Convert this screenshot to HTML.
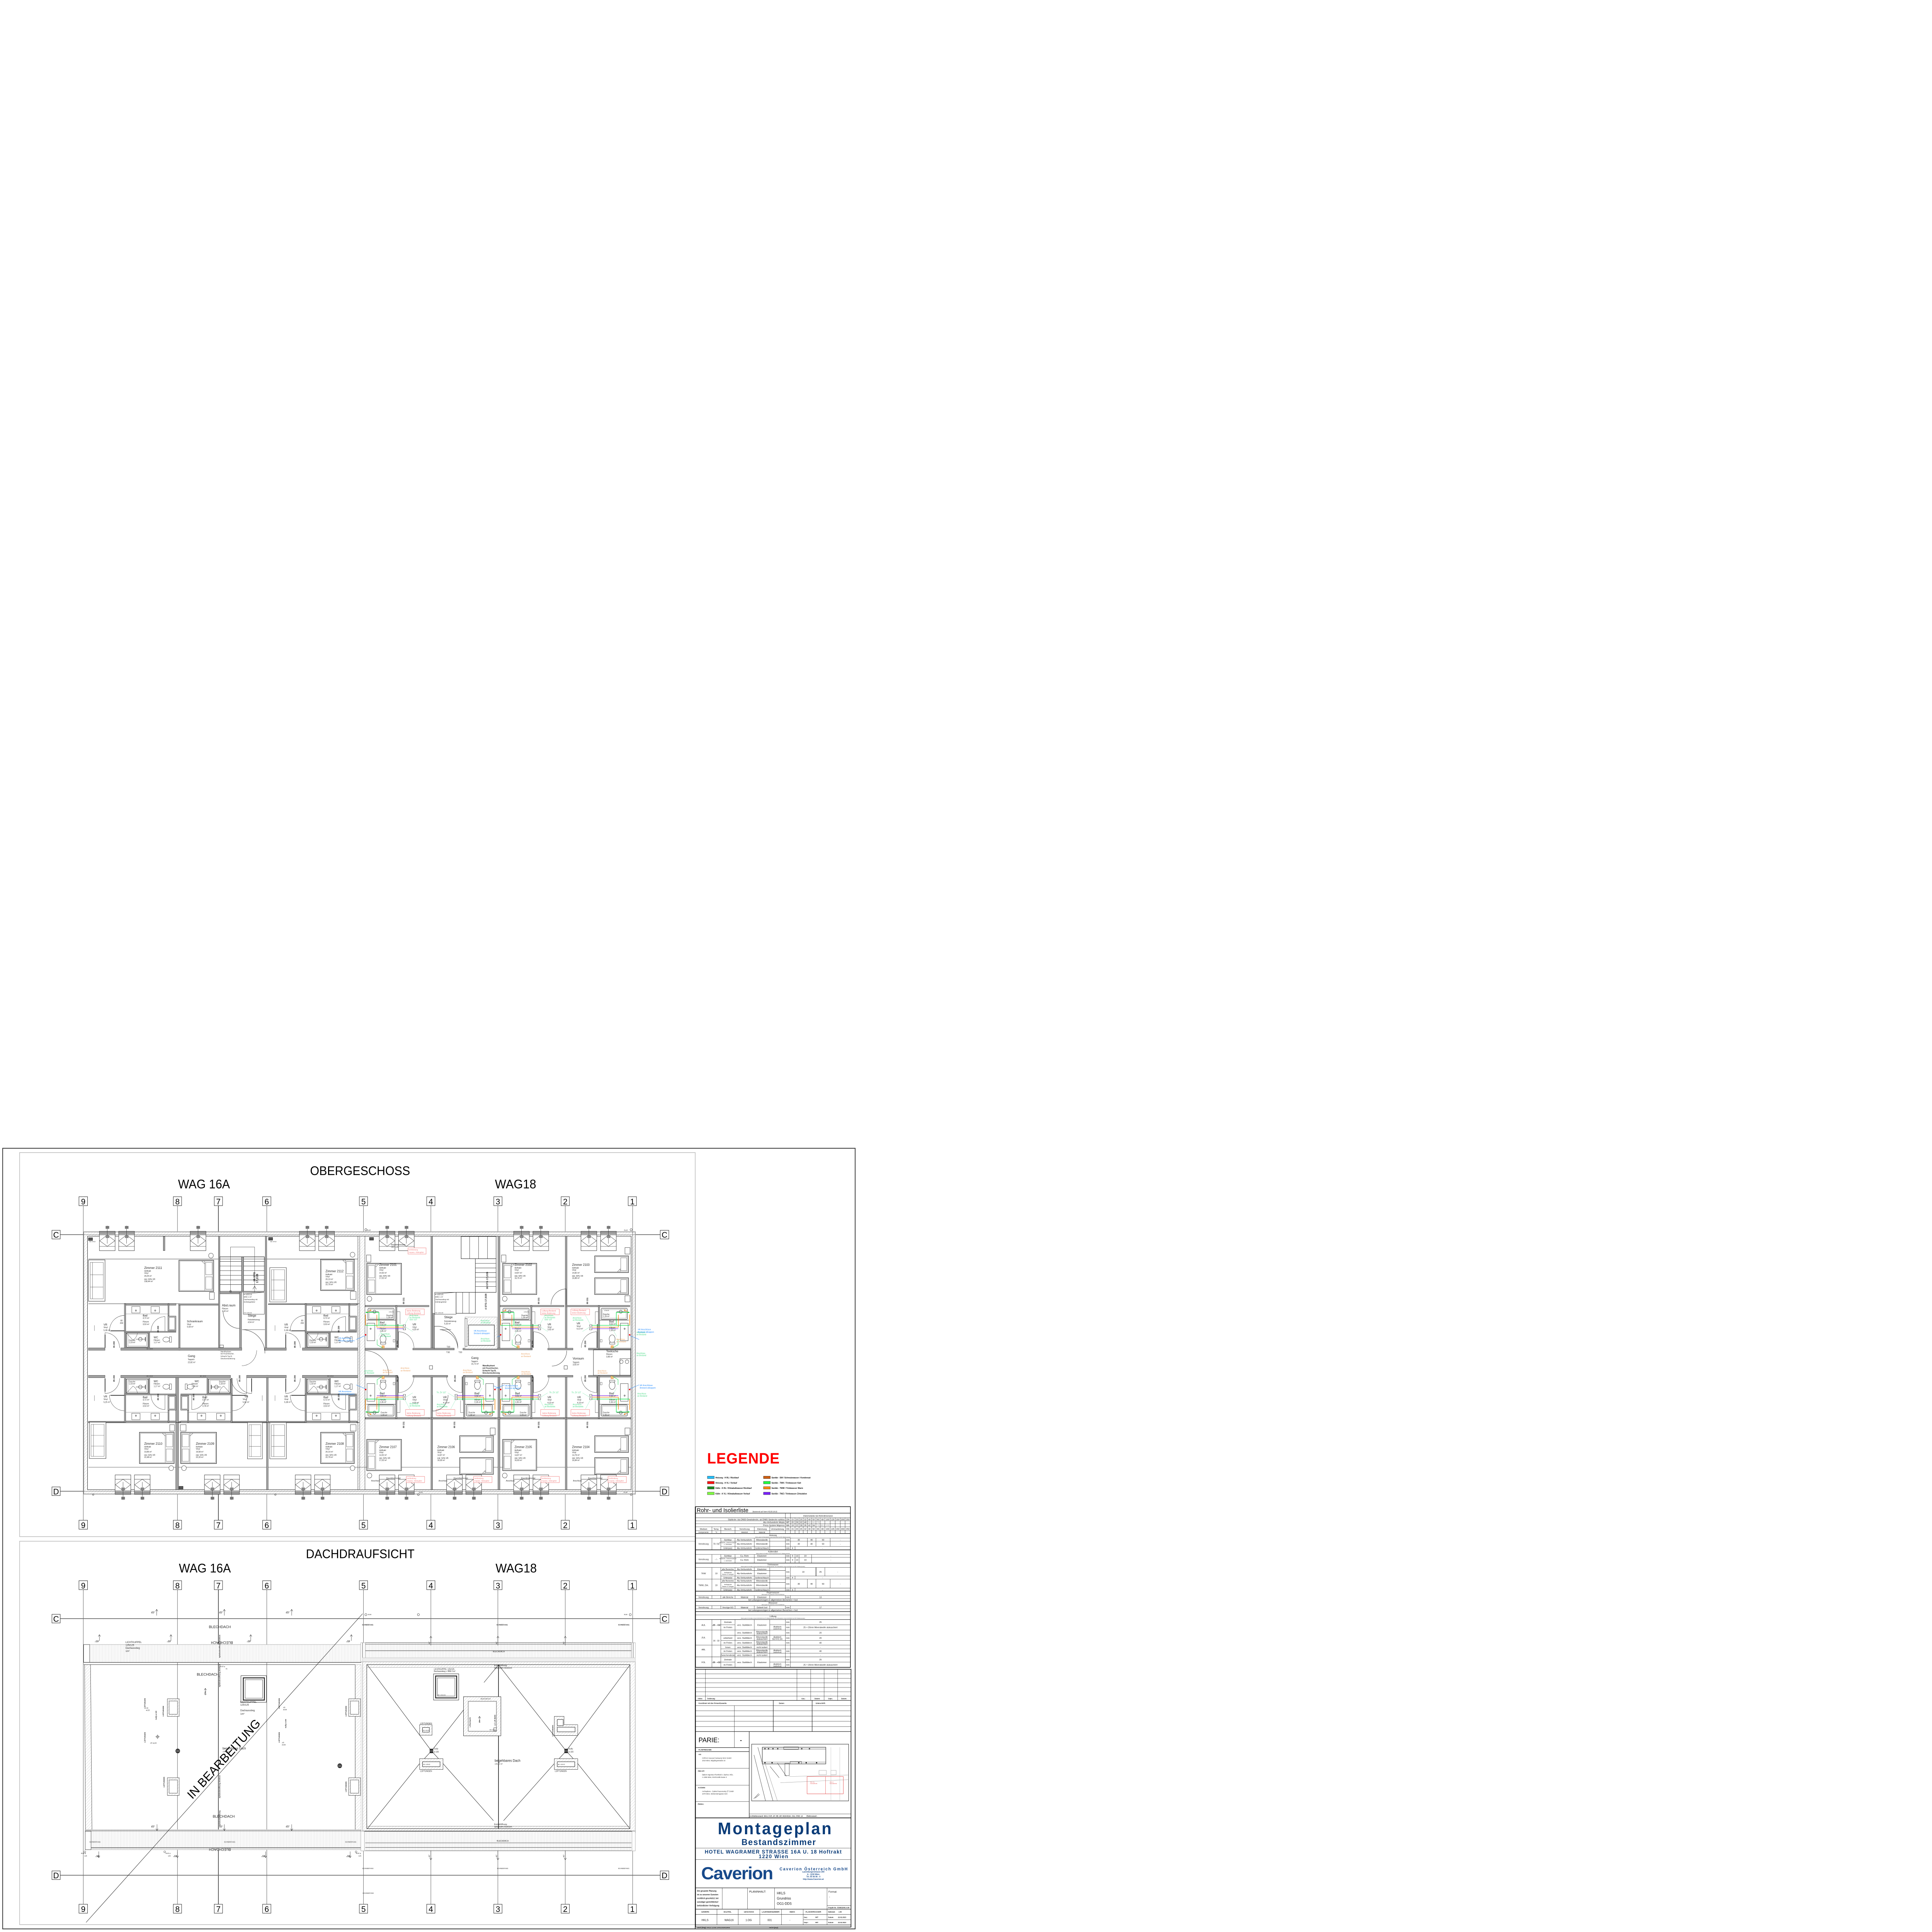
<!DOCTYPE html>
<html><head><meta charset="utf-8"><title>Montageplan</title>
<style>html,body{margin:0;padding:0;background:#fff;width:100%;height:100%;overflow:hidden}svg{display:block;width:100vw;height:100vh}</style></head>
<body>
<svg xmlns="http://www.w3.org/2000/svg" xmlns:xlink="http://www.w3.org/1999/xlink" viewBox="0 0 6511 6264" preserveAspectRatio="none" font-family="'Liberation Sans', sans-serif">
<defs>
<pattern id="hatch" width="7" height="7" patternUnits="userSpaceOnUse" patternTransform="rotate(45)"><rect width="7" height="7" fill="#fff"/><line x1="0" y1="0" x2="0" y2="7" stroke="#bdbdbd" stroke-width="1.2"/></pattern>
<pattern id="vl" width="5" height="10" patternUnits="userSpaceOnUse"><rect width="5" height="10" fill="#fff"/><line x1="0.5" y1="0" x2="0.5" y2="10" stroke="#cfcfcf" stroke-width="0.9"/></pattern>
<g id="wt">
<rect x="0" y="0" width="53" height="63" fill="#fff" stroke="#222" stroke-width="1.1"/>
<rect x="0" y="0" width="53" height="6" fill="#9a9a9a" stroke="#222" stroke-width="0.8"/>
<line x1="0" y1="9" x2="53" y2="9" stroke="#222" stroke-width="1.4"/>
<line x1="0" y1="12" x2="53" y2="12" stroke="#222" stroke-width="0.8"/>
<polygon points="26.5,12 52,31 26.5,49 1,31" fill="none" stroke="#222" stroke-width="0.9"/>
<line x1="0" y1="49" x2="53" y2="49" stroke="#222" stroke-width="0.9"/>
<line x1="26.5" y1="-18" x2="26.5" y2="40" stroke="#222" stroke-width="0.9"/>
<rect x="21" y="-17" width="12" height="9" fill="#777"/>
<rect x="21" y="13" width="12" height="9" fill="#888"/>
</g>
<g id="bedL">
<rect x="0" y="0" width="117" height="101" fill="#fff" stroke="#222" stroke-width="1.6"/>
<rect x="3" y="3" width="111" height="95" fill="none" stroke="#444" stroke-width="0.7"/>
<rect x="5" y="7" width="22" height="40" fill="none" stroke="#333" stroke-width="0.8"/>
<rect x="5" y="54" width="22" height="40" fill="none" stroke="#333" stroke-width="0.8"/>
<line x1="30" y1="3" x2="30" y2="98" stroke="#333" stroke-width="0.8"/>
<path d="M30 3 L40 3 L30 12 Z" fill="#fff" stroke="#333" stroke-width="0.8"/>
</g>
<g id="bedS">
<rect x="0" y="0" width="114" height="54" fill="#fff" stroke="#222" stroke-width="1.5"/>
<rect x="3" y="3" width="108" height="48" fill="none" stroke="#444" stroke-width="0.7"/>
<rect x="88" y="6" width="20" height="42" fill="none" stroke="#333" stroke-width="0.8"/>
<path d="M86 51 L86 42 L77 51 Z" fill="#fff" stroke="#333" stroke-width="0.8"/>
</g>
<g id="sofa">
<rect x="0" y="0" width="56" height="134" fill="#fff" stroke="#222" stroke-width="1.2"/>
<rect x="6" y="8" width="44" height="118" fill="none" stroke="#333" stroke-width="0.8"/>
<line x1="6" y1="48" x2="50" y2="48" stroke="#333" stroke-width="0.8"/>
<line x1="6" y1="88" x2="50" y2="88" stroke="#333" stroke-width="0.8"/>
<line x1="14" y1="8" x2="14" y2="126" stroke="#333" stroke-width="0.8"/>
</g>
<g id="b16">
<line x1="0" y1="0" x2="304" y2="0" stroke="#222" stroke-width="1.2"/>
<rect x="121" y="-1" width="174" height="6" fill="#a0a0a0" stroke="#222" stroke-width="0.7"/>
<rect x="121" y="0" width="5" height="143" fill="#a0a0a0" stroke="#222" stroke-width="0.7"/>
<rect x="268" y="0" width="4" height="40" fill="#a0a0a0" stroke="#222" stroke-width="0.7"/>
<rect x="146" y="9" width="28" height="21" fill="#fff" stroke="#222" stroke-width="0.9"/>
<circle cx="160" cy="22" r="2" fill="none" stroke="#222"/>
<rect x="211" y="9" width="28" height="21" fill="#fff" stroke="#222" stroke-width="0.9"/>
<circle cx="225" cy="22" r="2" fill="none" stroke="#222"/>
<line x1="126" y1="33" x2="268" y2="33" stroke="#444" stroke-width="0.7"/>
<rect x="121" y="89" width="174" height="4" fill="#a0a0a0" stroke="#222" stroke-width="0.6"/>
<rect x="203" y="93" width="4" height="50" fill="#a0a0a0" stroke="#222" stroke-width="0.6"/>
<rect x="128" y="95" width="73" height="46" fill="#fff" stroke="#222" stroke-width="1.6"/>
<rect x="133" y="99" width="63" height="38" fill="none" stroke="#444" stroke-width="0.7"/>
<circle cx="175" cy="115" r="6" fill="none" stroke="#222" stroke-width="1"/>
<line x1="160" y1="115" x2="192" y2="115" stroke="#222" stroke-width="1"/>
<line x1="192" y1="108" x2="192" y2="122" stroke="#222" stroke-width="2"/>
<rect x="268" y="40" width="27" height="48" fill="#bbb" stroke="#222" stroke-width="0.9"/>
<rect x="272" y="44" width="19" height="40" fill="#fff" stroke="#222" stroke-width="0.7"/>
<ellipse cx="262" cy="116" rx="11" ry="8" fill="#fff" stroke="#222" stroke-width="0.9"/>
<rect x="273" y="107" width="7" height="18" fill="#fff" stroke="#222" stroke-width="0.9"/>
<path d="M56 143 V94 A49 49 0 0 1 105 143" fill="none" stroke="#222" stroke-width="0.8"/>
<path d="M121 88 H71 A50 50 0 0 1 121 38" fill="none" stroke="#222" stroke-width="0.8"/>
<path d="M258 89 V42 A47 47 0 0 0 211 89" fill="none" stroke="#222" stroke-width="0.8"/>
<path d="M128 95 L150 118 M150 118 A30 30 0 0 0 165 95" fill="none" stroke="#222" stroke-width="0.7"/>
<line x1="75" y1="88" x2="121" y2="88" stroke="#222" stroke-width="2.2"/>
<line x1="56" y1="100" x2="56" y2="143" stroke="#222" stroke-width="2.2"/>
<line x1="20" y1="88" x2="20" y2="70" stroke="#222" stroke-width="0.7"/>
</g>
<g id="b18">
<rect x="0" y="-1" width="215" height="5" fill="#a0a0a0" stroke="#222" stroke-width="0.6"/>
<rect x="102" y="0" width="5" height="140" fill="#a0a0a0" stroke="#222" stroke-width="0.6"/>
<rect x="9" y="9" width="88" height="36" rx="3" fill="#fff" stroke="#222" stroke-width="1.3"/>
<rect x="13" y="13" width="80" height="28" fill="none" stroke="#444" stroke-width="0.6"/>
<circle cx="31" cy="20" r="5" fill="none" stroke="#222"/>
<line x1="14" y1="20" x2="45" y2="20" stroke="#222"/>
<line x1="4" y1="47" x2="102" y2="47" stroke="#222" stroke-width="1.2"/>
<rect x="6" y="57" width="26" height="57" fill="#fff" stroke="#222" stroke-width="1"/>
<circle cx="18" cy="75" r="2" fill="none" stroke="#222"/>
<ellipse cx="60" cy="108" rx="10" ry="13" fill="#fff" stroke="#222"/>
<rect x="51" y="119" width="18" height="6" fill="#fff" stroke="#222"/>
<rect x="94" y="110" width="6" height="8" fill="#fff" stroke="#222" stroke-width="0.7"/>
<path d="M112 137 V85 A52 52 0 0 1 164 137" fill="none" stroke="#222" stroke-width="0.8"/>
<path d="M107 20 H117 V60" fill="none" stroke="#222" stroke-width="0.7"/>
<line x1="110" y1="60" x2="110" y2="137" stroke="#222" stroke-width="2"/>
<path d="M1 22 H46 V64 H1" fill="none" stroke="#00e040" stroke-width="1.5"/>
<path d="M1 29 V64" fill="none" stroke="#f08000" stroke-width="1.8"/>
<path d="M39 30 V70 H129" fill="none" stroke="#f08000" stroke-width="1.5"/>
<path d="M39 75 H129" fill="none" stroke="#8020e0" stroke-width="1.5"/>
<path d="M2 64 H129" fill="none" stroke="#00e040" stroke-width="1.5"/>
<path d="M18 15 L5 22" fill="none" stroke="#f08000" stroke-width="1.2"/>
<circle cx="18" cy="15" r="2" fill="#f08000"/>
<circle cx="5" cy="22" r="2" fill="#00c030"/>
<rect x="128" y="62" width="8" height="17" fill="#fff" stroke="#222" stroke-width="0.7"/>
<path d="M128 62 L136 79 M136 62 L128 79" stroke="#222" stroke-width="0.5"/>
<circle cx="1" cy="95" r="2.5" fill="#ff0000"/>
<path d="M1 97 L-31 110" stroke="#1e88ff" stroke-width="1"/>
<rect x="56" y="130" width="8" height="8" fill="#f8c080" stroke="#e08020" stroke-width="1"/>
<path d="M60 138 L40 127 L40 110" fill="none" stroke="#00d040" stroke-width="1"/>
<rect x="136" y="11" width="63" height="19" fill="#fff" stroke="#f07070" stroke-width="1"/>
<path d="M133 62 L150 32 M136 70 L160 84 M45 100 L70 55" fill="none" stroke="#80e8b0" stroke-width="0.7"/>
</g>
<g id="vent">
<rect x="0" y="0" width="40" height="57" fill="url(#hatch)" stroke="#222" stroke-width="1"/>
<rect x="6" y="7" width="28" height="43" fill="#fff" stroke="#222" stroke-width="1"/>
</g>
</defs>

<!-- ========== FRAMES ========== -->
<rect x="9" y="3723" width="2873" height="2531" fill="none" stroke="#333" stroke-width="2.5"/>
<rect x="66" y="3737" width="2277" height="1245" fill="none" stroke="#bbb" stroke-width="2"/>
<rect x="66" y="4997" width="2277" height="1243" fill="none" stroke="#bbb" stroke-width="2"/>

<!-- ========== TITLES ========== -->
<g fill="#000">
<text x="1045" y="3810" font-size="41" textLength="337" lengthAdjust="spacingAndGlyphs">OBERGESCHOSS</text>
<text x="600" y="3853" font-size="41" textLength="175" lengthAdjust="spacingAndGlyphs">WAG 16A</text>
<text x="1668" y="3853" font-size="41" textLength="139" lengthAdjust="spacingAndGlyphs">WAG18</text>
<text x="1031" y="5052" font-size="41" textLength="366" lengthAdjust="spacingAndGlyphs">DACHDRAUFSICHT</text>
<text x="603" y="5098" font-size="41" textLength="175" lengthAdjust="spacingAndGlyphs">WAG 16A</text>
<text x="1670" y="5098" font-size="41" textLength="139" lengthAdjust="spacingAndGlyphs">WAG18</text>
</g>

<!-- ========== GRID LINES ========== -->
<g stroke="#333" stroke-width="1">
<line x1="280.5" y1="3909" x2="280.5" y2="4929"/><line x1="598" y1="3909" x2="598" y2="4929"/>
<line x1="899" y1="3909" x2="899" y2="4929"/><line x1="1225" y1="3909" x2="1225" y2="4929"/>
<line x1="1452" y1="3909" x2="1452" y2="4929"/><line x1="1678" y1="3909" x2="1678" y2="4929"/>
<line x1="1905" y1="3909" x2="1905" y2="4929"/><line x1="2132" y1="3909" x2="2132" y2="4929"/>
<line x1="280.5" y1="5154" x2="280.5" y2="6174"/><line x1="598" y1="5154" x2="598" y2="6174"/>
<line x1="899" y1="5154" x2="899" y2="6174"/><line x1="1225" y1="5154" x2="1225" y2="6174"/>
<line x1="1452" y1="5154" x2="1452" y2="6174"/><line x1="1678" y1="5154" x2="1678" y2="6174"/>
<line x1="1905" y1="5154" x2="1905" y2="6174"/><line x1="2132" y1="5154" x2="2132" y2="6174"/>
</g>
<g stroke="#000" stroke-width="1.6">
<line x1="736" y1="3909" x2="736" y2="4929"/><line x1="736" y1="5154" x2="736" y2="6174"/>
</g>
<g stroke="#666" stroke-width="2.2">
<line x1="203" y1="4003" x2="2225" y2="4003"/><line x1="203" y1="4835" x2="2225" y2="4835"/>
<line x1="203" y1="5248" x2="2225" y2="5248"/><line x1="203" y1="6080" x2="2225" y2="6080"/>
</g>

<!-- ========== TOP PLAN BUILDING ========== -->
<rect x="282" y="3994" width="1859" height="850" fill="url(#hatch)" stroke="#a8a8a8" stroke-width="3"/>
<rect x="295" y="4008" width="1832" height="822" fill="#fff" stroke="#222" stroke-width="1.3"/>
<line x1="280.5" y1="3994" x2="280.5" y2="4844" stroke="#333" stroke-width="1"/>
<line x1="2132" y1="3994" x2="2132" y2="4844" stroke="#333" stroke-width="1"/>
<line x1="282" y1="4003" x2="2141" y2="4003" stroke="#555" stroke-width="1"/>
<line x1="282" y1="4835" x2="2141" y2="4835" stroke="#555" stroke-width="1"/>
<!-- firewall -->
<rect x="1206" y="4008" width="24" height="822" fill="url(#hatch)" stroke="#222" stroke-width="1"/>
<line x1="1212" y1="4008" x2="1212" y2="4830" stroke="#999" stroke-width="2"/>
<!-- beam lines -->
<line x1="298" y1="4082" x2="1206" y2="4082" stroke="#333" stroke-width="1"/>
<line x1="298" y1="4757" x2="2127" y2="4757" stroke="#333" stroke-width="1"/>

<!-- WAG16A interior walls -->
<g fill="#a0a0a0" stroke="#222" stroke-width="0.7">
<rect x="736" y="4008" width="5" height="370"/>
<rect x="894" y="4008" width="5" height="370"/>
<rect x="602" y="4227" width="5" height="151"/>
<rect x="592" y="4459" width="10" height="371"/>
<rect x="898" y="4459" width="6" height="371"/>
<rect x="741" y="4190" width="73" height="5"/>
<rect x="807" y="4190" width="7" height="183"/>
<rect x="298" y="4370" width="56" height="8"/>
<rect x="407" y="4370" width="408" height="8"/>
<rect x="891" y="4370" width="74" height="8"/>
<rect x="1019" y="4370" width="187" height="8"/>
<rect x="298" y="4459" width="56" height="8"/>
<rect x="407" y="4459" width="370" height="8"/>
<rect x="831" y="4459" width="134" height="8"/>
<rect x="1019" y="4459" width="187" height="8"/>
<rect x="602" y="4227" width="134" height="5"/>
<rect x="298" y="4608" width="294" height="5"/>
<rect x="602" y="4608" width="296" height="5"/>
<rect x="904" y="4608" width="302" height="5"/>
<rect x="904" y="4227" width="302" height="3"/>
<rect x="550" y="4009" width="6" height="46"/>
</g>
<!-- WAG16A bath modules -->
<use xlink:href="#b16" transform="translate(298,4227)"/>
<use xlink:href="#b16" transform="translate(907,4227)"/>
<use xlink:href="#b16" transform="translate(298,4612) scale(1,-1)"/>
<use xlink:href="#b16" transform="translate(907,4612) scale(1,-1)"/>
<use xlink:href="#b16" transform="translate(904,4612) scale(-1,-1)"/>

<!-- stair WAG16A -->
<g stroke="#222" fill="none" stroke-width="1">
<rect x="741" y="4075" width="150" height="112" stroke-width="1.5"/>
<rect x="777" y="4043" width="81" height="147" stroke-width="0.8"/>
<rect x="814" y="4075" width="7" height="112" fill="#a0a0a0"/>
<line x1="741" y1="4090" x2="814" y2="4090"/><line x1="741" y1="4105" x2="814" y2="4105"/><line x1="741" y1="4120" x2="814" y2="4120"/><line x1="741" y1="4135" x2="814" y2="4135"/><line x1="741" y1="4150" x2="814" y2="4150"/><line x1="741" y1="4165" x2="814" y2="4165"/>
<line x1="821" y1="4090" x2="891" y2="4090"/><line x1="821" y1="4105" x2="891" y2="4105"/><line x1="821" y1="4120" x2="891" y2="4120"/><line x1="821" y1="4135" x2="891" y2="4135"/><line x1="821" y1="4150" x2="891" y2="4150"/><line x1="821" y1="4165" x2="891" y2="4165"/>
<rect x="820" y="4190" width="71" height="71"/>
<line x1="820" y1="4195" x2="891" y2="4190"/>
<path d="M807 4307 A55 55 0 0 1 752 4252" />
<path d="M816 4311 H893 M816 4311 A77 77 0 0 1 893 4388" />
<circle cx="777" cy="4187" r="3"/>
<path d="M852 4180 L858 4170 L864 4180"/>
<rect x="741" y="4361" width="12" height="8" fill="#fff"/>
</g>
<!-- windows -->
<use xlink:href="#wt" x="335" y="3992"/><use xlink:href="#wt" x="400" y="3992"/><use xlink:href="#wt" x="641" y="3992"/>
<use xlink:href="#wt" x="1009" y="3992"/><use xlink:href="#wt" x="1074" y="3992"/>
<use xlink:href="#wt" x="1278" y="3992"/><use xlink:href="#wt" x="1343" y="3992"/>
<use xlink:href="#wt" x="1731" y="3992"/><use xlink:href="#wt" x="1796" y="3992"/>
<use xlink:href="#wt" x="1958" y="3992"/><use xlink:href="#wt" x="2024" y="3992"/>
<use xlink:href="#wt" transform="translate(388,4845) scale(1,-1)"/><use xlink:href="#wt" transform="translate(453,4845) scale(1,-1)"/>
<use xlink:href="#wt" transform="translate(689,4845) scale(1,-1)"/><use xlink:href="#wt" transform="translate(754,4845) scale(1,-1)"/>
<use xlink:href="#wt" transform="translate(995,4845) scale(1,-1)"/><use xlink:href="#wt" transform="translate(1060,4845) scale(1,-1)"/>
<use xlink:href="#wt" transform="translate(1278,4845) scale(1,-1)"/><use xlink:href="#wt" transform="translate(1343,4845) scale(1,-1)"/>
<use xlink:href="#wt" transform="translate(1505,4845) scale(1,-1)"/><use xlink:href="#wt" transform="translate(1570,4845) scale(1,-1)"/>
<use xlink:href="#wt" transform="translate(1731,4845) scale(1,-1)"/><use xlink:href="#wt" transform="translate(1796,4845) scale(1,-1)"/>
<use xlink:href="#wt" transform="translate(1958,4845) scale(1,-1)"/><use xlink:href="#wt" transform="translate(2024,4845) scale(1,-1)"/>

<!-- WAG16A furniture -->
<use xlink:href="#sofa" x="298" y="4085"/>
<use xlink:href="#sofa" transform="translate(301,4611) scale(1,0.88)"/>
<use xlink:href="#sofa" transform="translate(834,4612) scale(0.9,0.88)"/>
<use xlink:href="#sofa" transform="translate(909,4110) scale(1,0.83)"/>
<use xlink:href="#sofa" transform="translate(909,4612) scale(1,0.88)"/>
<use xlink:href="#bedL" transform="translate(720,4086) scale(-1,1)"/>
<use xlink:href="#bedL" transform="translate(1194,4083) scale(-0.97,1)"/>
<use xlink:href="#bedL" transform="translate(587,4644) scale(-1,1)"/>
<use xlink:href="#bedL" transform="translate(609,4644) scale(1.03,1)"/>
<use xlink:href="#bedL" transform="translate(1194,4644) scale(-0.97,1)"/>
<g fill="#fff" stroke="#222" stroke-width="1">
<rect x="706" y="4190" width="16" height="23"/><circle cx="711" cy="4071" r="8"/>
<rect x="1181" y="4187" width="19" height="26"/><circle cx="1188" cy="4068" r="8"/>
<rect x="572" y="4619" width="16" height="21"/><circle cx="577" cy="4760" r="8"/>
<rect x="608" y="4619" width="19" height="21"/><circle cx="620" cy="4760" r="8"/>
<rect x="1181" y="4619" width="19" height="21"/><circle cx="1188" cy="4760" r="8"/>
<rect x="298" y="4013" width="14" height="9" fill="#555"/><rect x="905" y="4012" width="14" height="9" fill="#555"/>
<rect x="603" y="4819" width="14" height="9" fill="#555"/><rect x="1245" y="4012" width="14" height="9" fill="#555"/>
</g>

<!-- WAG16A texts -->
<g fill="#222" font-size="6.5">
<text x="486" y="4114" font-size="10.5">Zimmer 2111</text><text x="486" y="4123">Hoftrakt</text><text x="486" y="4130">Vinyl</text><text x="486" y="4139">29,25 m²</text><text x="486" y="4150">inkl. 50% VR</text><text x="486" y="4157">158,44 m²</text>
<text x="1097" y="4125" font-size="10.5">Zimmer 2112</text><text x="1097" y="4134">Hoftrakt</text><text x="1097" y="4141">Vinyl</text><text x="1097" y="4150">20,10 m²</text><text x="1097" y="4160">inkl. 50% VR</text><text x="1097" y="4167">22,79 m²</text>
<text x="486" y="4684" font-size="10.5">Zimmer 2110</text><text x="486" y="4693">Hoftrakt</text><text x="486" y="4700">Vinyl</text><text x="486" y="4709">19,86 m²</text><text x="486" y="4720">inkl. 50% VR</text><text x="486" y="4727">22,48 m²</text>
<text x="660" y="4684" font-size="10.5">Zimmer 2109</text><text x="660" y="4693">Hoftrakt</text><text x="660" y="4700">Vinyl</text><text x="660" y="4709">19,58 m²</text><text x="660" y="4720">inkl. 50% VR</text><text x="660" y="4727">22,33 m²</text>
<text x="1097" y="4684" font-size="10.5">Zimmer 2108</text><text x="1097" y="4693">Hoftrakt</text><text x="1097" y="4700">Vinyl</text><text x="1097" y="4709">20,10 m²</text><text x="1097" y="4720">inkl. 50% VR</text><text x="1097" y="4727">22,79 m²</text>
<text x="630" y="4287" font-size="9">Schrankraum</text><text x="630" y="4296">Vinyl</text><text x="630" y="4304">5,58 m²</text>
<text x="748" y="4236" font-size="10">Abst.raum</text><text x="748" y="4245">Fliesen</text><text x="748" y="4253">3,42 m²</text>
<text x="835" y="4269" font-size="10">Stiege</text><text x="835" y="4281">Feinsteinzeug</text><text x="835" y="4289">4,54 m²</text>
<text x="822" y="4199" font-size="6">K 125/125</text><text x="822" y="4207" font-size="6">BRE 1 m²</text><text x="822" y="4215" font-size="6">Dachausstieg mit</text><text x="822" y="4223" font-size="6">Einhängeleiter</text><text x="822" y="4258" font-size="5">DD 125/125</text>
<text transform="translate(860,4155) rotate(-90)" font-size="9" font-weight="bold">16 STG</text><text transform="translate(870,4160) rotate(-90)" font-size="9" font-weight="bold">17,2/28</text>
<text x="633" y="4400" font-size="10">Gang</text><text x="633" y="4410">Teppich</text><text x="633" y="4419">22,82 m²</text>
<text x="743" y="4384" font-size="6">Wandhydrant</text><text x="743" y="4391" font-size="6">mit Feuerlöscher,</text><text x="743" y="4399" font-size="6">Schacht Typ B,</text><text x="743" y="4407" font-size="6">Streckenisolierung</text>
<text x="301" y="4027" font-size="5">BD 24/10</text><text x="911" y="4027" font-size="5">BD 24/10</text>
<text x="349" y="4298" font-size="9">VR</text><text x="349" y="4306">Vinyl</text><text x="349" y="4315">5,38 m²</text>
<text x="481" y="4268" font-size="9">Bad</text><text x="481" y="4276">4,72 m²</text><text x="481" y="4288">Fliesen</text><text x="481" y="4296">3,53 m²</text>
<text x="434" y="4348">Dusche</text><text x="434" y="4355">1,19 m²</text>
<text x="518" y="4339" font-size="9">WC</text><text x="518" y="4347">Fliesen</text><text x="518" y="4355">1,17 m²</text>
<text x="406" y="4284">80</text><text x="404" y="4292">200</text><text x="494" y="4375" font-size="5">BD 14/14</text>
<text x="958" y="4298" font-size="9">VR</text><text x="958" y="4306">Vinyl</text><text x="958" y="4315">5,38 m²</text>
<text x="1090" y="4268" font-size="9">Bad</text><text x="1090" y="4276">4,72 m²</text><text x="1090" y="4288">Fliesen</text><text x="1090" y="4296">3,53 m²</text>
<text x="1043" y="4348">Dusche</text><text x="1043" y="4355">1,19 m²</text>
<text x="1127" y="4339" font-size="9">WC</text><text x="1127" y="4347">Fliesen</text><text x="1127" y="4355">1,17 m²</text>
<text x="1015" y="4284">80</text><text x="1013" y="4292">200</text>
<text x="349" y="4531" font-size="9">VR</text><text x="349" y="4539">Vinyl</text><text x="349" y="4548">5,25 m²</text>
<text x="481" y="4533" font-size="9">Bad</text><text x="481" y="4541">4,72 m²</text><text x="481" y="4553">Fliesen</text><text x="481" y="4561">3,53 m²</text>
<text x="434" y="4482">Dusche</text><text x="434" y="4489">1,19 m²</text>
<text x="518" y="4481" font-size="9">WC</text><text x="518" y="4489">Fliesen</text><text x="518" y="4497">1,17 m²</text>
<text x="494" y="4463" font-size="5">BD 14/14</text>
<text x="824" y="4531" font-size="9">VR</text><text x="818" y="4539">Vinyl</text><text x="818" y="4548">5,51 m²</text>
<text x="682" y="4533" font-size="9">Bad</text><text x="682" y="4541">4,97 m²</text><text x="682" y="4553">Fliesen</text><text x="682" y="4561">3,78 m²</text>
<text x="738" y="4482">Dusche</text><text x="738" y="4489">1,19 m²</text>
<text x="656" y="4481" font-size="9">WC</text><text x="646" y="4489">Fliesen</text><text x="646" y="4497">1,06 m²</text>
<text x="674" y="4463" font-size="5">BD 14/14</text>
<text x="958" y="4531" font-size="9">VR</text><text x="958" y="4539">Vinyl</text><text x="958" y="4548">5,38 m²</text>
<text x="1090" y="4533" font-size="9">Bad</text><text x="1090" y="4541">4,72 m²</text><text x="1090" y="4553">Fliesen</text><text x="1090" y="4561">3,53 m²</text>
<text x="1043" y="4482">Dusche</text><text x="1043" y="4489">1,19 m²</text>
<text x="1127" y="4481" font-size="9">WC</text><text x="1127" y="4489">Fliesen</text><text x="1127" y="4497">1,17 m²</text>
<text x="1103" y="4463" font-size="5">BD 14/14</text>
</g>
<g fill="none" stroke="#222" stroke-width="0.8">
<path d="M831 4467 V4519 A52 52 0 0 1 779 4467"/>
<path d="M865 4378 A50 50 0 0 1 815 4428"/>
</g>

<!-- WAG18 interior walls -->
<g fill="#a0a0a0" stroke="#222" stroke-width="0.7">
<rect x="1452" y="4008" width="6" height="368"/><rect x="1452" y="4459" width="6" height="371"/>
<rect x="1678" y="4008" width="7" height="368"/><rect x="1678" y="4459" width="7" height="371"/>
<rect x="1905" y="4008" width="6" height="368"/><rect x="1905" y="4459" width="6" height="371"/>
<rect x="1230" y="4371" width="109" height="6"/><rect x="1391" y="4371" width="140" height="6"/><rect x="1560" y="4371" width="234" height="6"/><rect x="1846" y="4371" width="85" height="6"/><rect x="1983" y="4371" width="144" height="6"/>
<rect x="1230" y="4459" width="109" height="6"/><rect x="1391" y="4459" width="118" height="6"/><rect x="1561" y="4459" width="233" height="6"/><rect x="1846" y="4459" width="85" height="6"/><rect x="1983" y="4459" width="144" height="6"/>
<rect x="1230" y="4596" width="897" height="5"/>
<rect x="1458" y="4258" width="6" height="113"/>
</g>
<use xlink:href="#b18" transform="translate(1231,4233)"/>
<use xlink:href="#b18" transform="translate(1686,4233)"/>
<use xlink:href="#b18" transform="translate(2123,4233) scale(-1,1)"/>
<use xlink:href="#b18" transform="translate(1231,4600) scale(1,-1)"/>
<use xlink:href="#b18" transform="translate(1686,4600) scale(1,-1)"/>
<use xlink:href="#b18" transform="translate(1669,4600) scale(-1,-1)"/>
<use xlink:href="#b18" transform="translate(2123,4600) scale(-1,-1)"/>
<g fill="none" stroke="#222" stroke-width="1">
<rect x="1554" y="4009" width="118" height="72" stroke-width="1.3"/>
<line x1="1583" y1="4009" x2="1583" y2="4081"/><line x1="1613" y1="4009" x2="1613" y2="4081"/><line x1="1643" y1="4009" x2="1643" y2="4081"/>
<rect x="1602" y="4081" width="70" height="109" stroke-width="1.3"/>
<line x1="1602" y1="4096" x2="1672" y2="4096"/><line x1="1602" y1="4111" x2="1672" y2="4111"/><line x1="1602" y1="4126" x2="1672" y2="4126"/><line x1="1602" y1="4141" x2="1672" y2="4141"/><line x1="1602" y1="4156" x2="1672" y2="4156"/><line x1="1602" y1="4171" x2="1672" y2="4171"/>
<rect x="1537" y="4190" width="65" height="68" stroke-width="1.3"/>
<line x1="1559" y1="4190" x2="1559" y2="4258"/><line x1="1581" y1="4190" x2="1581" y2="4258"/>
<rect x="1465" y="4190" width="72" height="71"/>
<line x1="1465" y1="4195" x2="1537" y2="4190"/>
<rect x="1567" y="4270" width="108" height="103" fill="url(#hatch)" stroke="#999"/>
<rect x="1579" y="4296" width="87" height="66" fill="#fff" stroke="#222" stroke-width="1.5"/>
<rect x="1567" y="4275" width="7" height="90" fill="#fff"/>
<path d="M1464 4373 V4300 H1480 A70 70 0 0 1 1543 4368"/>
<path d="M1482 4311 H1520 M1482 4311 A64 64 0 0 1 1543 4372"/>
<path d="M1231 4379 A80 80 0 0 1 1310 4459 H1231"/>
<path d="M1910 4379 A50 50 0 0 1 1860 4429"/>
<rect x="2000" y="4376" width="125" height="83" stroke-width="1.2"/>
<rect x="2089" y="4405" width="36" height="54"/>
<circle cx="2094" cy="4415" r="6"/><circle cx="2113" cy="4415" r="6"/>
<rect x="1447" y="4428" width="11" height="11"/><rect x="1901" y="4428" width="11" height="11"/>
<path d="M1908 4230 V4179 A51 51 0 0 0 1857 4230"/>
<path d="M1458 4523 V4575 A52 52 0 0 0 1510 4523"/>
</g>
<use xlink:href="#bedL" x="1236" y="4096"/>
<use xlink:href="#bedL" transform="translate(1694,4096) scale(0.98,1)"/>
<use xlink:href="#bedL" x="1236" y="4667"/>
<use xlink:href="#bedL" transform="translate(1694,4667) scale(0.98,1)"/>
<use xlink:href="#bedS" x="2004" y="4072"/><use xlink:href="#bedS" x="2004" y="4143"/>
<use xlink:href="#bedS" x="1549" y="4655"/><use xlink:href="#bedS" x="1549" y="4726"/>
<use xlink:href="#bedS" x="2004" y="4655"/><use xlink:href="#bedS" x="2004" y="4726"/>
<g fill="#fff" stroke="#222" stroke-width="1">
<circle cx="1245" cy="4211" r="8"/><rect x="1235" y="4069" width="15" height="23"/>
<circle cx="1701" cy="4211" r="8"/><rect x="1690" y="4069" width="15" height="23"/>
<circle cx="1245" cy="4784" r="8"/><circle cx="1701" cy="4784" r="8"/>
<rect x="2106" y="4045" width="17" height="21"/><rect x="2106" y="4201" width="17" height="20"/>
<rect x="1652" y="4630" width="17" height="22"/><rect x="2106" y="4630" width="17" height="22"/>
</g>
<g fill="#fff" stroke="#f07070" stroke-width="1">
<rect x="1375" y="4046" width="61" height="20"/>
<rect x="1369" y="4787" width="62" height="20"/><rect x="1596" y="4787" width="62" height="20"/>
<rect x="1823" y="4787" width="62" height="20"/><rect x="2049" y="4787" width="62" height="20"/>
</g>
<g font-size="6" fill="#f07070">
<text x="1377" y="4054">Verkleidung</text><text x="1377" y="4062">Anpass. Abbiegitter</text>
<text x="1371" y="4795">Verkleidung</text><text x="1371" y="4803">Anpass. Abbiegitter</text>
<text x="1598" y="4795">Verkleidung</text><text x="1598" y="4803">Anpass. Abbiegitter</text>
<text x="1825" y="4795">Verkleidung</text><text x="1825" y="4803">Anpass. Abbiegitter</text>
<text x="2051" y="4795">Verkleidung</text><text x="2051" y="4803">Anpass. Abbiegitter</text>
</g>
<g font-size="6.5" fill="#f07070">
<text x="1371" y="4252">keine Änderung</text><text x="1371" y="4260">Lüftung Bestand</text>
<text x="1826" y="4252">Lüftung Bestand</text><text x="1826" y="4260">keine Änderung</text>
<text x="1928" y="4251">Lüftung Bestand</text><text x="1928" y="4259">keine Änderung</text>
<text x="1371" y="4584">keine Änderung</text><text x="1371" y="4592">Lüftung Bestand</text>
<text x="1473" y="4584">keine Änderung</text><text x="1473" y="4592">Lüftung Bestand</text>
<text x="1828" y="4584">keine Änderung</text><text x="1828" y="4592">Lüftung Bestand</text>
<text x="1928" y="4584">keine Änderung</text><text x="1928" y="4592">Lüftung Bestand</text>
</g>
<g font-size="6.5" fill="#e8a060">
<text x="1350" y="4438">Anschluss</text><text x="1350" y="4446">an Bestand</text>
<text x="1290" y="4445">Anschluss</text><text x="1290" y="4452">an Bestand</text>
<text x="1560" y="4445">Anschluss</text><text x="1560" y="4452">an Bestand</text>
<text x="1756" y="4392">Anschluss</text><text x="1756" y="4400">an Bestand</text>
<text x="1757" y="4450">Anschluss</text><text x="1757" y="4457">an Bestand</text>
<text x="2014" y="4447">Anschluss</text><text x="2014" y="4454">an Bestand</text>
<text x="2077" y="4345">Anschluss</text><text x="2077" y="4352">an Bestand</text>
</g>
<g font-size="6.5" fill="#40d880">
<text x="1380" y="4267">Anschluss</text><text x="1380" y="4274">an Bestands</text><text x="1380" y="4281">SSV 1/2"</text>
<text x="1835" y="4267">Anschluss</text><text x="1835" y="4274">an Bestands</text><text x="1835" y="4281">SSV 1/2"</text>
<text x="1930" y="4275">Anschluss</text><text x="1930" y="4282">an Bestands</text>
<text x="1284" y="4327">Anschluss</text><text x="1284" y="4335">an Bestand</text>
<text x="1620" y="4284">Anschluss</text><text x="1620" y="4291">an Bestand</text>
<text x="1620" y="4343">Anschluss</text><text x="1620" y="4350">an Bestand</text>
<text x="1228" y="4447">Anschluss</text><text x="1228" y="4454">an Bestand</text>
<text x="2145" y="4322">Anschluss</text><text x="2145" y="4329">an Bestand</text>
<text x="2145" y="4390">Anschluss</text><text x="2145" y="4397">an Bestand</text>
<text x="2148" y="4521">Anschluss</text><text x="2148" y="4528">an Bestand</text>
<text x="1380" y="4553">Anschluss</text><text x="1380" y="4560">an Bestands</text>
<text x="1472" y="4556">Anschluss</text><text x="1472" y="4563">an Bestands</text>
<text x="1835" y="4556">Anschluss</text><text x="1835" y="4563">an Bestands</text>
<text x="1930" y="4556">Anschluss</text><text x="1930" y="4563">an Bestands</text>
<text x="1471" y="4517">Th. ZV 1/2"</text><text x="1851" y="4517">Th. ZV 1/2"</text><text x="1926" y="4517">Th. ZV 1/2"</text>
</g>
<g font-size="6.5" fill="#1e88ff">
<text x="1597" y="4317">HK Anschlüsse</text><text x="1597" y="4325">Bestand abkappen</text>
<text x="1702" y="4495">HK Anschlüsse</text><text x="1702" y="4503">Bestand abkappen</text>
<text x="2150" y="4313">HK Anschlüsse</text><text x="2150" y="4321">Bestand abkappen</text>
<text x="2156" y="4494">HK Anschlüsse</text><text x="2156" y="4502">Bestand abkappen</text>
<text x="1141" y="4341">HK Anschlüsse</text><text x="1141" y="4349">Bestand abkappen</text>
<text x="1141" y="4514">HK Anschlüsse</text><text x="1141" y="4522">Bestand abkappen</text>
</g>
<g fill="#222" font-size="6.5">
<text x="1278" y="4104" font-size="10">Zimmer 2101</text><text x="1278" y="4113">Hoftrakt</text><text x="1278" y="4120">Vinyl</text><text x="1278" y="4129">14,92 m²</text><text x="1278" y="4139">inkl. 50% VR</text><text x="1278" y="4146">17,02 m²</text>
<text x="1734" y="4104" font-size="10">Zimmer 2102</text><text x="1734" y="4113">Hoftrakt</text><text x="1734" y="4120">Vinyl</text><text x="1734" y="4129">14,87 m²</text><text x="1734" y="4139">inkl. 50% VR</text><text x="1734" y="4146">16,76 m²</text>
<text x="1928" y="4104" font-size="10">Zimmer 2103</text><text x="1928" y="4113">Hoftrakt</text><text x="1928" y="4120">Vinyl</text><text x="1928" y="4129">14,82 m²</text><text x="1928" y="4139">inkl. 50% VR</text><text x="1928" y="4146">16,88 m²</text>
<text x="1278" y="4695" font-size="10">Zimmer 2107</text><text x="1278" y="4704">Hoftrakt</text><text x="1278" y="4711">Vinyl</text><text x="1278" y="4720">14,92 m²</text><text x="1278" y="4730">inkl. 50% VR</text><text x="1278" y="4737">17,02 m²</text>
<text x="1474" y="4695" font-size="10">Zimmer 2106</text><text x="1474" y="4704">Hoftrakt</text><text x="1474" y="4711">Vinyl</text><text x="1474" y="4720">14,87 m²</text><text x="1474" y="4730">inkl. 50% VR</text><text x="1474" y="4737">16,93 m²</text>
<text x="1734" y="4695" font-size="10">Zimmer 2105</text><text x="1734" y="4704">Hoftrakt</text><text x="1734" y="4711">Vinyl</text><text x="1734" y="4720">14,87 m²</text><text x="1734" y="4730">inkl. 50% VR</text><text x="1734" y="4737">16,93 m²</text>
<text x="1928" y="4695" font-size="10">Zimmer 2104</text><text x="1928" y="4704">Hoftrakt</text><text x="1928" y="4711">Vinyl</text><text x="1928" y="4720">14,78 m²</text><text x="1928" y="4730">inkl. 50% VR</text><text x="1928" y="4737">16,84 m²</text>
<text x="1497" y="4274" font-size="10">Stiege</text><text x="1497" y="4286">Feinsteinzeug</text><text x="1497" y="4294">5,33 m²</text>
<text x="1467" y="4199" font-size="6">K 125/125</text><text x="1467" y="4207" font-size="6">BRE 1 m²</text><text x="1467" y="4215" font-size="6">Dachausstieg mit</text><text x="1467" y="4223" font-size="6">Einhängeleiter</text><text x="1467" y="4258" font-size="5">DD 125/125</text>
<text x="1588" y="4406" font-size="10">Gang</text><text x="1588" y="4416">Teppich</text><text x="1588" y="4424">15,73 m²</text>
<text x="1626" y="4430" font-weight="bold">Wandhydrant</text><text x="1626" y="4438" font-weight="bold">mit Feuerlöscher,</text><text x="1626" y="4446" font-weight="bold">Schacht Typ B,</text><text x="1626" y="4454" font-weight="bold">Streckenisolierung</text>
<text x="1930" y="4408" font-size="10">Vorraum</text><text x="1930" y="4419">Teppich</text><text x="1930" y="4427">3,55 m²</text>
<text x="2043" y="4384" font-size="9.5">Teeküche</text><text x="2043" y="4393">Fliesen</text><text x="2043" y="4401">2,86 m²</text>
<text x="1505" y="4369" font-size="7">T30</text><text x="1545" y="4387" font-size="7">T30</text><text x="1504" y="4387" font-size="7">T30</text>
<text transform="translate(1640,4246) rotate(-90)" font-size="8" font-weight="bold">4 STG 17,5/28</text>
<text transform="translate(1645,4180) rotate(-90)" font-size="8" font-weight="bold">16 STG 17,2/28</text>
<text x="1318" y="4038">Raumthermostat</text><text x="1318" y="4045">OH 2,35</text>
<text x="1302" y="4795">Raumthermostat</text><text x="1529" y="4795">Raumthermostat</text><text x="1756" y="4795">Raumthermostat</text><text x="1982" y="4795">Raumthermostat</text>
<text x="1251" y="4803">Anschluss</text><text x="1478" y="4803">Anschluss</text><text x="1705" y="4803">Anschluss</text><text x="1931" y="4803">Anschluss</text>
<text x="1302" y="4267">Dusche</text><text x="1302" y="4274">1,29 m²</text><text x="1310" y="4255" font-size="5">170x75</text>
<text x="1280" y="4291" font-size="9">Bad</text><text x="1280" y="4298">3,64 m²</text><text x="1280" y="4310">Fliesen</text><text x="1280" y="4318">2,35 m²</text>
<text x="1390" y="4297" font-size="9">VR</text><text x="1390" y="4305">Vinyl</text><text x="1390" y="4313">4,20 m²</text>
<text x="1757" y="4267">Dusche</text><text x="1757" y="4274">1,29 m²</text><text x="1765" y="4255" font-size="5">170x75</text>
<text x="1735" y="4291" font-size="9">Bad</text><text x="1735" y="4298">3,64 m²</text><text x="1735" y="4310">Fliesen</text><text x="1735" y="4318">2,35 m²</text>
<text x="1845" y="4297" font-size="9">VR</text><text x="1845" y="4305">Vinyl</text><text x="1845" y="4313">3,92 m²</text>
<text x="2032" y="4263">Dusche</text><text x="2032" y="4270">1,29 m²</text><text x="2036" y="4251" font-size="5">170x75</text>
<text x="2053" y="4288" font-size="9">Bad</text><text x="2053" y="4295">3,64 m²</text><text x="2053" y="4307">Fliesen</text><text x="2053" y="4315">2,35 m²</text>
<text x="1943" y="4294" font-size="9">VR</text><text x="1943" y="4302">Vinyl</text><text x="1943" y="4310">4,13 m²</text>
<text x="1283" y="4582">Dusche</text><text x="1283" y="4590">1,29 m²</text>
<text x="1280" y="4521" font-size="9">Bad</text><text x="1280" y="4528">3,64 m²</text><text x="1280" y="4541">Fliesen</text><text x="1280" y="4548">2,35 m²</text>
<text x="1390" y="4533" font-size="9">VR</text><text x="1390" y="4541">Vinyl</text><text x="1390" y="4550">4,20 m²</text>
<text x="1579" y="4582">Dusche</text><text x="1579" y="4590">1,29 m²</text>
<text x="1599" y="4521" font-size="9">Bad</text><text x="1599" y="4528">3,64 m²</text><text x="1599" y="4541">Fliesen</text><text x="1599" y="4548">2,35 m²</text>
<text x="1493" y="4533" font-size="9">VR</text><text x="1493" y="4541">Vinyl</text><text x="1493" y="4550">4,13 m²</text>
<text x="1752" y="4582">Dusche</text><text x="1752" y="4590">1,29 m²</text>
<text x="1736" y="4521" font-size="9">Bad</text><text x="1736" y="4528">3,64 m²</text><text x="1736" y="4541">Fliesen</text><text x="1736" y="4548">2,35 m²</text>
<text x="1845" y="4533" font-size="9">VR</text><text x="1845" y="4541">Vinyl</text><text x="1845" y="4550">4,13 m²</text>
<text x="2032" y="4582">Dusche</text><text x="2032" y="4590">1,29 m²</text>
<text x="2053" y="4521" font-size="9">Bad</text><text x="2053" y="4528">3,64 m²</text><text x="2053" y="4541">Fliesen</text><text x="2053" y="4548">2,35 m²</text>
<text x="1945" y="4533" font-size="9">VR</text><text x="1945" y="4541">Vinyl</text><text x="1945" y="4550">4,13 m²</text>
<text x="1237" y="3991" font-size="6">RAR</text><text x="2103" y="3991" font-size="6">RAR</text><text x="1412" y="4841" font-size="6">RAR</text><text x="2102" y="4841" font-size="6">RAR</text>
<text transform="translate(1363,4228) rotate(-90)" font-size="7" font-weight="bold">80 211</text>
<text transform="translate(1818,4228) rotate(-90)" font-size="7" font-weight="bold">80 211</text>
<text transform="translate(1982,4228) rotate(-90)" font-size="7" font-weight="bold">80 211</text>
<text transform="translate(1363,4630) rotate(-90)" font-size="7" font-weight="bold">80 211</text>
<text transform="translate(1534,4630) rotate(-90)" font-size="7" font-weight="bold">80 211</text>
<text transform="translate(1818,4630) rotate(-90)" font-size="7" font-weight="bold">80 211</text>
<text transform="translate(1982,4630) rotate(-90)" font-size="7" font-weight="bold">80 211</text>
<text transform="translate(1342,4368) rotate(-90)" font-size="7" font-weight="bold">85 200</text>
<text transform="translate(1797,4368) rotate(-90)" font-size="7" font-weight="bold">85 200</text>
<text transform="translate(1975,4368) rotate(-90)" font-size="7" font-weight="bold">85 200</text>
<text transform="translate(1342,4480) rotate(-90)" font-size="7" font-weight="bold">85 200</text>
<text transform="translate(1536,4480) rotate(-90)" font-size="7" font-weight="bold">85 200</text>
<text transform="translate(1797,4480) rotate(-90)" font-size="7" font-weight="bold">85 200</text>
<text transform="translate(1975,4480) rotate(-90)" font-size="7" font-weight="bold">85 200</text>
<text transform="translate(387,4370) rotate(-90)" font-size="7" font-weight="bold">65 200</text>
<text transform="translate(996,4370) rotate(-90)" font-size="7" font-weight="bold">85 200</text>
<text transform="translate(387,4480) rotate(-90)" font-size="7" font-weight="bold">85 200</text>
<text transform="translate(810,4480) rotate(-90)" font-size="7" font-weight="bold">85 200</text>
<text transform="translate(996,4480) rotate(-90)" font-size="7" font-weight="bold">85 200</text>
<text transform="translate(535,4320) rotate(-90)" font-size="7" font-weight="bold">80 200</text>
<text transform="translate(1144,4320) rotate(-90)" font-size="7" font-weight="bold">80 200</text>
<text transform="translate(535,4540) rotate(-90)" font-size="7" font-weight="bold">80 200</text>
<text transform="translate(655,4540) rotate(-90)" font-size="7" font-weight="bold">80 200</text>
<text transform="translate(1144,4540) rotate(-90)" font-size="7" font-weight="bold">80 200</text>
</g>
<g fill="none" stroke="#222" stroke-width="1"><circle cx="1233" cy="3987" r="3.5"/><circle cx="2127" cy="3987" r="3.5"/><circle cx="1410" cy="4846" r="3"/><circle cx="2127" cy="4846" r="3"/><circle cx="314" cy="4846" r="2.5"/><circle cx="928" cy="4846" r="2.5"/></g>

<!-- ========== AXIS BOXES ========== -->
<g fill="#fff" stroke="#222" stroke-width="1.3">
<rect x="266" y="3880" width="29" height="29"/><rect x="584" y="3880" width="28" height="29"/><rect x="722" y="3880" width="28" height="29"/><rect x="885" y="3880" width="28" height="29"/><rect x="1211" y="3880" width="28" height="29"/><rect x="1438" y="3880" width="28" height="29"/><rect x="1664" y="3880" width="28" height="29"/><rect x="1891" y="3880" width="28" height="29"/><rect x="2117" y="3880" width="28" height="29"/>
<rect x="266" y="4929" width="29" height="29"/><rect x="584" y="4929" width="28" height="29"/><rect x="722" y="4929" width="28" height="29"/><rect x="885" y="4929" width="28" height="29"/><rect x="1211" y="4929" width="28" height="29"/><rect x="1438" y="4929" width="28" height="29"/><rect x="1664" y="4929" width="28" height="29"/><rect x="1891" y="4929" width="28" height="29"/><rect x="2117" y="4929" width="28" height="29"/>
<rect x="266" y="5125" width="29" height="29"/><rect x="584" y="5125" width="28" height="29"/><rect x="722" y="5125" width="28" height="29"/><rect x="885" y="5125" width="28" height="29"/><rect x="1211" y="5125" width="28" height="29"/><rect x="1438" y="5125" width="28" height="29"/><rect x="1664" y="5125" width="28" height="29"/><rect x="1891" y="5125" width="28" height="29"/><rect x="2117" y="5125" width="28" height="29"/>
<rect x="266" y="6174" width="29" height="29"/><rect x="584" y="6174" width="28" height="29"/><rect x="722" y="6174" width="28" height="29"/><rect x="885" y="6174" width="28" height="29"/><rect x="1211" y="6174" width="28" height="29"/><rect x="1438" y="6174" width="28" height="29"/><rect x="1664" y="6174" width="28" height="29"/><rect x="1891" y="6174" width="28" height="29"/><rect x="2117" y="6174" width="28" height="29"/>
<rect x="175" y="3989" width="28" height="28"/><rect x="2225" y="3989" width="29" height="28"/>
<rect x="175" y="4821" width="28" height="28"/><rect x="2225" y="4821" width="29" height="28"/>
<rect x="175" y="5234" width="28" height="28"/><rect x="2225" y="5234" width="29" height="28"/>
<rect x="175" y="6066" width="28" height="28"/><rect x="2225" y="6066" width="29" height="28"/>
</g>
<g font-size="27" text-anchor="middle" fill="#000">
<text x="280.5" y="3905">9</text><text x="598" y="3905">8</text><text x="736" y="3905">7</text><text x="899" y="3905">6</text><text x="1225" y="3905">5</text><text x="1452" y="3905">4</text><text x="1678" y="3905">3</text><text x="1905" y="3905">2</text><text x="2131" y="3905">1</text>
<text x="280.5" y="4954">9</text><text x="598" y="4954">8</text><text x="736" y="4954">7</text><text x="899" y="4954">6</text><text x="1225" y="4954">5</text><text x="1452" y="4954">4</text><text x="1678" y="4954">3</text><text x="1905" y="4954">2</text><text x="2131" y="4954">1</text>
<text x="280.5" y="5150">9</text><text x="598" y="5150">8</text><text x="736" y="5150">7</text><text x="899" y="5150">6</text><text x="1225" y="5150">5</text><text x="1452" y="5150">4</text><text x="1678" y="5150">3</text><text x="1905" y="5150">2</text><text x="2131" y="5150">1</text>
<text x="280.5" y="6199">9</text><text x="598" y="6199">8</text><text x="736" y="6199">7</text><text x="899" y="6199">6</text><text x="1225" y="6199">5</text><text x="1452" y="6199">4</text><text x="1678" y="6199">3</text><text x="1905" y="6199">2</text><text x="2131" y="6199">1</text>
<text x="189" y="4013">C</text><text x="2239.5" y="4013">C</text>
<text x="189" y="4845">D</text><text x="2239.5" y="4845">D</text>
<text x="189" y="5258">C</text><text x="2239.5" y="5258">C</text>
<text x="189" y="6090">D</text><text x="2239.5" y="6090">D</text>
</g>

<!-- ========== ROOF PLAN LEFT (WAG16A) ========== -->
<rect x="282" y="5332" width="935" height="58" fill="url(#vl)" stroke="#999" stroke-width="1"/>
<rect x="282" y="5332" width="20" height="58" fill="#fff" stroke="#222" stroke-width="1"/>
<line x1="282" y1="5390" x2="1217" y2="5390" stroke="#555" stroke-width="2"/>
<line x1="282" y1="5397" x2="1217" y2="5397" stroke="#222" stroke-width="1.2"/>
<polygon points="285,5397 305,5397 310,5932 288,5932" fill="url(#hatch)" stroke="#222" stroke-width="1"/>
<rect x="1197" y="5397" width="20" height="535" fill="url(#hatch)" stroke="#bbb" stroke-width="1"/>
<line x1="1197" y1="5397" x2="1197" y2="5932" stroke="#222" stroke-width="1"/>
<rect x="287" y="5932" width="930" height="65" fill="url(#vl)" stroke="#999" stroke-width="1"/>
<line x1="287" y1="5936" x2="1217" y2="5936" stroke="#444" stroke-width="1.5"/>
<line x1="287" y1="5991" x2="1217" y2="5991" stroke="#555" stroke-width="2"/>
<rect x="287" y="5937" width="20" height="60" fill="#fff" stroke="#222" stroke-width="1"/>
<rect x="812" y="5433" width="86" height="86" fill="#fff" stroke="#222" stroke-width="1.2"/>
<rect x="820" y="5440" width="71" height="72" fill="none" stroke="#222" stroke-width="3"/>
<rect x="826" y="5446" width="59" height="60" fill="none" stroke="#222" stroke-width="1"/>
<use xlink:href="#vent" x="564" y="5508"/><use xlink:href="#vent" x="564" y="5764"/>
<use xlink:href="#vent" x="1175" y="5508"/><use xlink:href="#vent" x="1175" y="5764"/>
<g fill="#333" stroke="#111"><circle cx="599" cy="5677" r="7"/><circle cx="1145" cy="5725" r="7"/></g>
<g stroke="#fff" stroke-width="0.8"><line x1="593" y1="5675" x2="605" y2="5675"/><line x1="593" y1="5679" x2="605" y2="5679"/><line x1="1139" y1="5723" x2="1151" y2="5723"/><line x1="1139" y1="5727" x2="1151" y2="5727"/></g>
<g fill="none" stroke="#222" stroke-width="0.8"><circle cx="531" cy="5631" r="4"/><line x1="524" y1="5631" x2="538" y2="5631"/><line x1="531" y1="5624" x2="531" y2="5638"/></g>
<g fill="#222" font-size="12">
<text x="741" y="5279" text-anchor="middle">BLECHDACH</text>
<text transform="translate(748,5322) rotate(180)" text-anchor="middle">BLECHDACH</text>
<text x="700" y="5433" text-anchor="middle">BLECHDACH</text>
<text x="754" y="5893" text-anchor="middle">BLECHDACH</text>
<text transform="translate(741,5993) rotate(180)" text-anchor="middle">BLECHDACH</text>
<text x="750" y="5672" font-size="10">begehbares Dach</text><text x="750" y="5681" font-size="6">139,13 m²</text>
</g>
<g fill="#222" font-size="8">
<text x="423" y="5327">LICHTKUPPEL</text><text x="423" y="5336">125/125</text><text x="423" y="5346">Dachausstieg</text><text x="423" y="5356">1m²</text>
<text x="810" y="5521">LICHTKUPPEL</text><text x="810" y="5530">125/125</text><text x="810" y="5548">Dachausstieg</text><text x="810" y="5559">1m²</text>
<text x="492" y="5540" font-size="5.5">AR</text><text x="492" y="5547" font-size="5.5">ø125</text>
<text x="954" y="5538" font-size="5.5">AR</text><text x="954" y="5545" font-size="5.5">ø125</text>
<text x="506" y="5653" font-size="5.5">AR ø125</text><text x="950" y="5652" font-size="5.5">AR</text><text x="950" y="5659" font-size="5.5">ø125</text>
<text x="742" y="5405" font-size="5.5">RAR ø</text><text x="760" y="5413" font-size="5.5">70</text>
</g>
<g fill="#222" font-size="5.5" font-weight="bold">
<text transform="translate(490,5540) rotate(-90)">LÜFTUNGEN</text><text transform="translate(552,5565) rotate(-90)">LÜFTUNGEN</text>
<text transform="translate(490,5650) rotate(-90)">LÜFTUNGEN</text><text transform="translate(555,5795) rotate(-90)">LÜFTUNGEN</text>
<text transform="translate(943,5540) rotate(-90)">LÜFTUNGEN</text><text transform="translate(943,5650) rotate(-90)">LÜFTUNGEN</text>
<text transform="translate(1168,5565) rotate(-90)">LÜFTUNGEN</text><text transform="translate(1168,5810) rotate(-90)">LÜFTUNGEN</text>
<text transform="translate(528,5576) rotate(-90)">Gully ø 100</text><text transform="translate(965,5603) rotate(-90)">Gully ø 100</text>
<text transform="translate(742,5470) rotate(-90)">Spitzbodenöffnung 60x60cm</text>
<text transform="translate(742,5830) rotate(-90)">Spitzbodenöffnung 60x60cm</text>
<text transform="translate(742,5920) rotate(-90)">Spitzbodenöffnung</text>
<text transform="translate(742,5375) rotate(-90)">Spitzbodenöffnung 60x60cm</text>
<text x="1220" y="5270">SCHNEEFANG</text><text x="1673" y="5270">SCHNEEFANG</text><text x="2083" y="5270">SCHNEEFANG</text>
</g>
<g fill="#222" font-size="9">
<text x="509" y="5231">45°</text><text x="738" y="5231">45°</text><text x="963" y="5231">45°</text>
<text x="509" y="5925">45°</text><text x="738" y="5925">45°</text><text x="963" y="5925">45°</text>
<text transform="translate(333,5318) rotate(180)">45°</text><text transform="translate(576,5318) rotate(180)">45°</text><text transform="translate(845,5318) rotate(180)">45°</text><text transform="translate(1180,5318) rotate(180)">45°</text>
<text transform="translate(335,6015) rotate(180)">45°</text><text transform="translate(597,6015) rotate(180)">45°</text><text transform="translate(894,6015) rotate(180)">45°</text><text transform="translate(1180,6015) rotate(180)">45°</text>
<text transform="translate(695,5495) rotate(-90)" font-size="8">2%</text>
</g>
<g fill="none" stroke="#222" stroke-width="0.9">
<path d="M528 5238 V5218 M524 5224 L528 5218 L532 5224"/><path d="M756 5238 V5218 M752 5224 L756 5218 L760 5224"/><path d="M983 5238 V5218 M979 5224 L983 5218 L987 5224"/>
<path d="M335 5320 V5300 M331 5306 L335 5300 L339 5306"/><path d="M576 5320 V5300 M572 5306 L576 5300 L580 5306"/><path d="M845 5320 V5300 M841 5306 L845 5300 L849 5306"/><path d="M1184 5320 V5300 M1180 5306 L1184 5300 L1188 5306"/>
<path d="M529 5915 V5935 M525 5929 L529 5935 L533 5929"/><path d="M756 5915 V5935 M752 5929 L756 5935 L760 5929"/><path d="M983 5915 V5935 M979 5929 L983 5935 L987 5929"/>
<path d="M333 6003 V6023 M329 6017 L333 6023 L337 6017"/><path d="M598 6003 V6023 M594 6017 L598 6023 L602 6017"/><path d="M895 6003 V6023 M891 6017 L895 6023 L899 6017"/><path d="M1180 6003 V6023 M1176 6017 L1180 6023 L1184 6017"/>
<path d="M692 5496 V5474 M688 5480 L692 5474 L696 5480"/>
<circle cx="286" cy="6004" r="3"/><circle cx="555" cy="6004" r="3"/><circle cx="1200" cy="6004" r="3"/>
<circle cx="1233" cy="5235" r="3.5"/><circle cx="1410" cy="5235" r="3.5"/><circle cx="2124" cy="5235" r="3.5"/>
</g>
<g fill="#222" font-size="5.5">
<text x="273" y="6011">RAR ø</text><text x="284" y="6019">125</text><text x="558" y="6011">RAR ø</text><text x="566" y="6019">125</text><text x="1200" y="6011">RAR ø</text><text x="1208" y="6019">125</text>
<text x="1240" y="5237">RAR</text><text x="2103" y="5237">RAR</text>
<text x="301" y="5974">SCHNEEFANG</text><text x="755" y="5974">SCHNEEFANG</text><text x="1163" y="5974">SCHNEEFANG</text>
<text x="1221" y="6060">SCHNEEFANG</text><text x="1675" y="6060">SCHNEEFANG</text><text x="2083" y="6060">SCHNEEFANG</text>
<text x="1222" y="6140">SCHNEEFANG</text>
</g>
<line x1="1222" y1="5232" x2="290" y2="6233" stroke="#111" stroke-width="1.1"/>
<text transform="translate(764,5712) rotate(-46.7)" text-anchor="middle" font-size="40" fill="#000">IN BEARBEITUNG</text>

<!-- ========== ROOF PLAN RIGHT (WAG18) ========== -->
<rect x="1231" y="5326" width="897" height="49" fill="url(#vl)" stroke="#222" stroke-width="1"/>
<line x1="1231" y1="5331" x2="2128" y2="5331" stroke="#333" stroke-width="1"/>
<line x1="1231" y1="5352" x2="2128" y2="5352" stroke="#333" stroke-width="1.2"/>
<rect x="1216" y="5326" width="15" height="62" fill="#fff" stroke="#999" stroke-width="1"/>
<rect x="2128" y="5326" width="13" height="62" fill="#fff" stroke="#999" stroke-width="1"/>
<line x1="1222" y1="5326" x2="1222" y2="5388" stroke="#222"/><line x1="2134" y1="5326" x2="2134" y2="5388" stroke="#222"/>
<rect x="1222" y="5375" width="919" height="13" fill="#eee" stroke="#bbb" stroke-width="1"/>
<rect x="1222" y="5388" width="919" height="554" fill="url(#hatch)" stroke="#bbb" stroke-width="2"/>
<rect x="1236" y="5397" width="887" height="532" fill="#fff" stroke="#222" stroke-width="1.3"/>
<rect x="1238" y="5399" width="883" height="7" fill="url(#hatch)" stroke="none"/>
<rect x="1238" y="5921" width="883" height="7" fill="url(#hatch)" stroke="none"/>
<line x1="1236" y1="5406" x2="2123" y2="5406" stroke="#555" stroke-width="0.7"/>
<line x1="1236" y1="5921" x2="2123" y2="5921" stroke="#555" stroke-width="0.7"/>
<rect x="1222" y="5937" width="919" height="64" fill="url(#vl)" stroke="#999" stroke-width="1"/>
<line x1="1222" y1="5937" x2="2141" y2="5937" stroke="#222" stroke-width="2"/>
<line x1="1231" y1="5975" x2="2128" y2="5975" stroke="#444" stroke-width="1.2"/>
<line x1="1231" y1="5990" x2="2128" y2="5990" stroke="#444" stroke-width="1.2"/>
<line x1="1231" y1="6000" x2="2128" y2="6000" stroke="#777" stroke-width="1"/>
<rect x="1216" y="5937" width="12" height="64" fill="#fff" stroke="#999"/><rect x="2130" y="5937" width="11" height="64" fill="#fff" stroke="#999"/>
<g stroke="#111" stroke-width="1.1" fill="none">
<line x1="1238" y1="5398" x2="1454" y2="5677"/>
<line x1="1680" y1="5398" x2="1631" y2="5455"/><line x1="1568" y1="5537" x2="1454" y2="5677"/>
<line x1="1680" y1="5398" x2="1908" y2="5677"/>
<line x1="2123" y1="5398" x2="1908" y2="5677"/>
<line x1="1238" y1="5929" x2="1414" y2="5718"/>
<line x1="1663" y1="5903" x2="1493" y2="5718"/>
<line x1="1697" y1="5903" x2="1868" y2="5718"/>
<line x1="2123" y1="5929" x2="1947" y2="5718"/>
<line x1="1454" y1="5677" x2="1430" y2="5702"/><line x1="1454" y1="5677" x2="1478" y2="5702"/>
<line x1="1908" y1="5677" x2="1884" y2="5702"/><line x1="1908" y1="5677" x2="1932" y2="5702"/>
<line x1="1680" y1="5398" x2="1680" y2="5929" stroke-width="2"/>
</g>
<rect x="1461" y="5427" width="85" height="85" fill="#fff" stroke="#222" stroke-width="1.2"/>
<rect x="1468" y="5434" width="71" height="71" fill="none" stroke="#222" stroke-width="3"/>
<rect x="1474" y="5440" width="59" height="59" fill="none" stroke="#222" stroke-width="1"/>
<rect x="1562" y="5501" width="126" height="127" fill="url(#hatch)" stroke="#222" stroke-width="1.2"/>
<rect x="1578" y="5516" width="95" height="97" fill="#fff" stroke="#222" stroke-width="1"/>
<rect x="1664" y="5602" width="9" height="10" fill="#fff" stroke="#222"/>
<rect x="1414" y="5592" width="42" height="34" fill="url(#hatch)" stroke="#222"/><rect x="1424" y="5601" width="23" height="15" fill="#fff" stroke="#222" stroke-width="1.3"/>
<rect x="1414" y="5702" width="79" height="35" fill="url(#hatch)" stroke="#222"/><rect x="1424" y="5712" width="59" height="16" fill="#fff" stroke="#222" stroke-width="1.3"/>
<rect x="1868" y="5702" width="79" height="35" fill="url(#hatch)" stroke="#222"/><rect x="1878" y="5712" width="59" height="16" fill="#fff" stroke="#222" stroke-width="1.3"/>
<polygon points="1868,5565 1901,5565 1901,5592 1947,5592 1947,5627 1868,5627" fill="url(#hatch)" stroke="#222"/>
<rect x="1878" y="5575" width="20" height="20" fill="#fff" stroke="#222" stroke-width="1.3"/><rect x="1878" y="5600" width="60" height="15" fill="#fff" stroke="#222" stroke-width="1.3"/>
<rect x="1448" y="5670" width="12" height="14" fill="#222"/><rect x="1902" y="5670" width="12" height="14" fill="#222"/>
<g stroke="#fff" stroke-width="0.8"><line x1="1448" y1="5675" x2="1460" y2="5675"/><line x1="1448" y1="5679" x2="1460" y2="5679"/><line x1="1902" y1="5675" x2="1914" y2="5675"/><line x1="1902" y1="5679" x2="1914" y2="5679"/></g>
<g fill="none" stroke="#222" stroke-width="0.9">
<path d="M1452 5335 V5305 M1448 5311 L1452 5305 L1456 5311"/><path d="M1678 5335 V5305 M1674 5311 L1678 5305 L1682 5311"/><path d="M1905 5335 V5305 M1901 5311 L1905 5305 L1909 5311"/>
<path d="M1452 6000 V6030 M1448 6024 L1452 6030 L1456 6024"/><path d="M1678 6000 V6030 M1674 6024 L1678 6030 L1682 6024"/><path d="M1905 6000 V6030 M1901 6024 L1905 6030 L1909 6024"/>
<path d="M1616 5585 V5565 M1612 5571 L1616 5565 L1620 5571"/>
</g>
<g fill="#222" font-size="6.5">
<text transform="translate(1449,5331) rotate(-90)">45°</text><text transform="translate(1675,5331) rotate(-90)">45°</text><text transform="translate(1902,5331) rotate(-90)">45°</text>
<text transform="translate(1449,6022) rotate(-90)">45°</text><text transform="translate(1675,6022) rotate(-90)">45°</text><text transform="translate(1902,6022) rotate(-90)">45°</text>
<text x="1661" y="5357">BLECHDACH</text><text x="1674" y="5971">BLECHDACH</text>
<text x="1462" y="5414">LICHTKUPPEL 125/125</text><text x="1462" y="5421">Dachausstieg + BRE 1m²</text>
<text x="1475" y="5497" font-size="5">BD 125/125</text>
<text x="1620" y="5510" font-size="5.5">BLECHDACH</text>
<text x="1665" y="5402">Kontrollöffnung</text><text x="1665" y="5410">Spitzboden 60x60cm</text>
<text x="1665" y="5917">Kontrollöffnung</text><text x="1665" y="5925">Spitzboden 60x60cm</text>
<text x="1416" y="5590">LÜFTUNGEN</text><text x="1416" y="5745">LÜFTUNGEN</text><text x="1870" y="5745">LÜFTUNGEN</text>
<text x="1462" y="5672">Gully</text><text x="1462" y="5682">ø 100</text><text x="1916" y="5672">Gully</text><text x="1916" y="5682">ø 100</text>
<text x="1426" y="5722" font-size="5">BD 105/25</text><text x="1880" y="5722" font-size="5">BD 105/25</text>
<text x="1425" y="5612" font-size="5">BD 40/25</text><text x="1650" y="5610" font-size="5">BD 20/20</text>
<text x="1667" y="5712" font-size="11">begehbares Dach</text><text x="1667" y="5721" font-size="6">139,13 m²</text>
<text transform="translate(1586,5600) rotate(-90)" font-weight="bold" font-size="6">Liftschacht</text>
<text transform="translate(1670,5595) rotate(-90)" font-weight="bold" font-size="6">LÜ Lift Ø200</text>
<text transform="translate(1618,5585) rotate(-90)" font-weight="bold" font-size="6">2%</text>
<text transform="translate(1865,5630) rotate(-90)" font-weight="bold" font-size="6">LÜFTUNGEN</text>
</g>

<!-- ========== LEGEND ========== -->
<text x="2383" y="4745" font-size="49" font-weight="bold" fill="#ff0000" textLength="244" lengthAdjust="spacing">LEGENDE</text>
<g stroke="#222" stroke-width="0.8">
<rect x="2384" y="4786" width="23" height="8" fill="#22c0ff"/><rect x="2384" y="4803" width="23" height="8" fill="#ff1010"/><rect x="2384" y="4820" width="23" height="8" fill="#208a20"/><rect x="2384" y="4838" width="23" height="8" fill="#80ff40"/>
<rect x="2573" y="4786" width="23" height="8" fill="#d06010"/><rect x="2573" y="4803" width="23" height="8" fill="#20ff40"/><rect x="2573" y="4820" width="23" height="8" fill="#ff8a10"/><rect x="2573" y="4838" width="23" height="8" fill="#7a20ff"/>
</g>
<g font-size="6.5" font-weight="bold" fill="#000">
<text x="2411" y="4793">Heizung - H RL / Rücklauf</text><text x="2411" y="4810">Heizung  - H VL / Vorlauf</text><text x="2411" y="4827">Kälte - K RL / Klimakaltwasser Rücklauf</text><text x="2411" y="4845">Kälte - K VL / Klimakaltwasser Vorlauf</text>
<text x="2600" y="4793">Sanitär - SW / Schmutzwasser / Kondensat</text><text x="2600" y="4810">Sanitär - TWK / Trinkwasser Kalt</text><text x="2600" y="4827">Sanitär - TWW / Trinkwasser Warm</text><text x="2600" y="4845">Sanitär - TWZ / Trinkwasser Zirkulation</text>
</g>

<!-- ========== ROHR TABLE ========== -->
<rect x="2344" y="4885" width="522" height="521" fill="#fff" stroke="#111" stroke-width="2"/>
<text x="2348" y="4903" font-size="19" fill="#000">Rohr- und Isolierliste</text>
<text x="2536" y="4903" font-size="5.5" fill="#000">(basierend auf Norm H5155:2013)</text>
<g stroke="#111" stroke-width="0.8">
<line x1="2344" y1="4906" x2="2866" y2="4906" stroke-width="1.5"/>
<line x1="2344" y1="4921" x2="2866" y2="4921"/><line x1="2344" y1="4931" x2="2866" y2="4931"/><line x1="2344" y1="4940" x2="2866" y2="4940"/><line x1="2344" y1="4950" x2="2866" y2="4950"/><line x1="2344" y1="4963" x2="2866" y2="4963"/>
<line x1="2344" y1="4972" x2="2866" y2="4972" stroke-width="1.8"/>
<line x1="2344" y1="4987" x2="2866" y2="4987"/><line x1="2429" y1="4997" x2="2866" y2="4997"/><line x1="2429" y1="5014" x2="2866" y2="5014"/>
<line x1="2344" y1="5025" x2="2866" y2="5025" stroke-width="1.8"/>
<line x1="2344" y1="5040" x2="2866" y2="5040"/><line x1="2429" y1="5049" x2="2866" y2="5049"/>
<line x1="2344" y1="5068" x2="2866" y2="5068" stroke-width="1.8"/>
<line x1="2344" y1="5082" x2="2866" y2="5082"/><line x1="2429" y1="5092" x2="2647" y2="5092"/><line x1="2429" y1="5110" x2="2866" y2="5110"/><line x1="2344" y1="5120" x2="2866" y2="5120"/><line x1="2429" y1="5131" x2="2647" y2="5131"/><line x1="2429" y1="5149" x2="2866" y2="5149"/>
<line x1="2344" y1="5159" x2="2866" y2="5159" stroke-width="1.8"/>
<line x1="2344" y1="5173" x2="2866" y2="5173"/><line x1="2344" y1="5183" x2="2866" y2="5183"/>
<line x1="2344" y1="5192" x2="2866" y2="5192" stroke-width="1.8"/>
<line x1="2344" y1="5206" x2="2866" y2="5206"/><line x1="2344" y1="5216" x2="2866" y2="5216"/>
<line x1="2344" y1="5225" x2="2866" y2="5225" stroke-width="1.8"/>
<line x1="2344" y1="5236" x2="2866" y2="5236"/>
<line x1="2344" y1="5251" x2="2866" y2="5251" stroke-width="1.3"/>
<line x1="2429" y1="5268" x2="2477" y2="5268"/><line x1="2594" y1="5268" x2="2866" y2="5268"/>
<line x1="2344" y1="5285" x2="2866" y2="5285"/><line x1="2429" y1="5302" x2="2866" y2="5302"/><line x1="2429" y1="5319" x2="2866" y2="5319"/>
<line x1="2344" y1="5334" x2="2866" y2="5334"/><line x1="2429" y1="5346" x2="2866" y2="5346"/><line x1="2429" y1="5360" x2="2866" y2="5360"/>
<line x1="2344" y1="5372" x2="2866" y2="5372"/><line x1="2429" y1="5389" x2="2477" y2="5389"/><line x1="2594" y1="5389" x2="2866" y2="5389"/>
<line x1="2647" y1="4906" x2="2647" y2="4972"/><line x1="2664" y1="4906" x2="2664" y2="4972"/>
<line x1="2679" y1="4921" x2="2679" y2="4972"/><line x1="2693" y1="4921" x2="2693" y2="4972"/><line x1="2707" y1="4921" x2="2707" y2="4972"/><line x1="2721" y1="4921" x2="2721" y2="4972"/><line x1="2735" y1="4921" x2="2735" y2="4972"/><line x1="2750" y1="4921" x2="2750" y2="4972"/><line x1="2764" y1="4921" x2="2764" y2="4972"/><line x1="2780" y1="4921" x2="2780" y2="4972"/><line x1="2798" y1="4921" x2="2798" y2="4972"/><line x1="2815" y1="4921" x2="2815" y2="4972"/><line x1="2832" y1="4921" x2="2832" y2="4972"/><line x1="2848" y1="4921" x2="2848" y2="4972"/>
<line x1="2399" y1="4950" x2="2399" y2="4972"/><line x1="2429" y1="4950" x2="2429" y2="4972"/><line x1="2477" y1="4950" x2="2477" y2="4972"/><line x1="2542" y1="4950" x2="2542" y2="4972"/><line x1="2594" y1="4950" x2="2594" y2="4972"/>
<line x1="2399" y1="4987" x2="2399" y2="5025"/><line x1="2429" y1="4987" x2="2429" y2="5025"/><line x1="2477" y1="4987" x2="2477" y2="5025"/><line x1="2542" y1="4987" x2="2542" y2="5025"/><line x1="2594" y1="4987" x2="2594" y2="5025"/><line x1="2647" y1="4987" x2="2647" y2="5025"/><line x1="2664" y1="4987" x2="2664" y2="5025"/><line x1="2721" y1="4987" x2="2721" y2="5014"/><line x1="2750" y1="4987" x2="2750" y2="5014"/><line x1="2798" y1="4987" x2="2798" y2="5014"/><line x1="2679" y1="5014" x2="2679" y2="5025"/>
<line x1="2399" y1="5040" x2="2399" y2="5068"/><line x1="2429" y1="5040" x2="2429" y2="5068"/><line x1="2477" y1="5040" x2="2477" y2="5068"/><line x1="2542" y1="5040" x2="2542" y2="5068"/><line x1="2647" y1="5040" x2="2647" y2="5068"/><line x1="2664" y1="5040" x2="2664" y2="5068"/><line x1="2679" y1="5040" x2="2679" y2="5068"/><line x1="2693" y1="5040" x2="2693" y2="5068"/><line x1="2735" y1="5040" x2="2735" y2="5068"/>
<line x1="2399" y1="5082" x2="2399" y2="5159"/><line x1="2429" y1="5082" x2="2429" y2="5159"/><line x1="2477" y1="5082" x2="2477" y2="5159"/><line x1="2542" y1="5082" x2="2542" y2="5159"/><line x1="2594" y1="5082" x2="2594" y2="5159"/><line x1="2647" y1="5082" x2="2647" y2="5159"/><line x1="2664" y1="5082" x2="2664" y2="5159"/><line x1="2750" y1="5082" x2="2750" y2="5110" stroke-width="1.6"/><line x1="2780" y1="5082" x2="2780" y2="5110"/><line x1="2679" y1="5110" x2="2679" y2="5120"/><line x1="2721" y1="5120" x2="2721" y2="5149"/><line x1="2750" y1="5120" x2="2750" y2="5149"/><line x1="2798" y1="5120" x2="2798" y2="5149"/><line x1="2679" y1="5149" x2="2679" y2="5159"/>
<line x1="2399" y1="5173" x2="2399" y2="5183"/><line x1="2429" y1="5173" x2="2429" y2="5183"/><line x1="2477" y1="5173" x2="2477" y2="5183"/><line x1="2542" y1="5173" x2="2542" y2="5183"/><line x1="2594" y1="5173" x2="2594" y2="5183"/><line x1="2647" y1="5173" x2="2647" y2="5183"/><line x1="2664" y1="5173" x2="2664" y2="5183"/>
<line x1="2399" y1="5206" x2="2399" y2="5216"/><line x1="2429" y1="5206" x2="2429" y2="5216"/><line x1="2477" y1="5206" x2="2477" y2="5216"/><line x1="2542" y1="5206" x2="2542" y2="5216"/><line x1="2594" y1="5206" x2="2594" y2="5216"/><line x1="2647" y1="5206" x2="2647" y2="5216"/><line x1="2664" y1="5206" x2="2664" y2="5216"/>
<line x1="2399" y1="5251" x2="2399" y2="5406"/><line x1="2429" y1="5251" x2="2429" y2="5406"/><line x1="2477" y1="5251" x2="2477" y2="5406"/><line x1="2542" y1="5251" x2="2542" y2="5406"/><line x1="2594" y1="5251" x2="2594" y2="5406"/><line x1="2647" y1="5251" x2="2647" y2="5406"/><line x1="2664" y1="5251" x2="2664" y2="5406"/>
</g>
<g font-size="7" fill="#111" text-anchor="middle">
<text x="2757" y="4917">Dämmstärke bei Rohrdimension</text>
<text x="2644" y="4929" text-anchor="end">Stahlrohr: bis DN50 Gewinderohr, ab DN65 Siederohr nahtlos</text>
<text x="2644" y="4938" text-anchor="end">Alu-Verbundrohr Mepla</text>
<text x="2644" y="4948" text-anchor="end">Press-System Mapress</text>
<text x="2655" y="4929">DN</text><text x="2655" y="4938">MP</text><text x="2655" y="4948">MA</text><text x="2655" y="4960">DN</text>
<text x="2671" y="4929">15</text><text x="2686" y="4929">20</text><text x="2700" y="4929">25</text><text x="2714" y="4929">32</text><text x="2728" y="4929">40</text><text x="2742" y="4929">50</text><text x="2757" y="4929">65</text><text x="2772" y="4929">80</text><text x="2789" y="4929">100</text><text x="2806" y="4929">125</text><text x="2823" y="4929">150</text><text x="2840" y="4929">200</text><text x="2857" y="4929">250</text>
<text x="2671" y="4938">20</text><text x="2686" y="4938">26</text><text x="2700" y="4938">32</text><text x="2714" y="4938">40</text><text x="2728" y="4938" fill="#999">50</text><text x="2742" y="4938" fill="#999">63</text><text x="2757" y="4938" fill="#999">75</text>
<text x="2671" y="4948">18</text><text x="2686" y="4948">22</text><text x="2700" y="4948">28</text><text x="2714" y="4948">35</text><text x="2728" y="4948">42</text><text x="2742" y="4948">54</text><text x="2757" y="4948" fill="#999">76</text><text x="2772" y="4948" fill="#999">88,9</text><text x="2789" y="4948" fill="#999">108</text>
<text x="2671" y="4960">15</text><text x="2686" y="4960">20</text><text x="2700" y="4960">25</text><text x="2714" y="4960">32</text><text x="2728" y="4960">40</text><text x="2742" y="4960">50</text><text x="2757" y="4960">65</text><text x="2772" y="4960">80</text><text x="2789" y="4960">100</text><text x="2806" y="4960">125</text><text x="2823" y="4960">150</text><text x="2840" y="4960">200</text><text x="2857" y="4960">250</text>
<text x="2371" y="4960">Medium</text><text x="2414" y="4960">Temp.</text><text x="2453" y="4960">Bereich</text><text x="2509" y="4960">Verrohrung</text><text x="2568" y="4960">Dämmung</text><text x="2620" y="4960">Ummantelung</text>
<text x="2371" y="4970" font-size="6">Komponente</text><text x="2414" y="4970" font-size="6">°C</text><text x="2509" y="4970" font-size="6">Material</text><text x="2568" y="4970" font-size="6">Material</text>
<text x="2605" y="4980">Heizung</text><text x="2605" y="4985" font-size="3.5">(Werte gelten für Mineralwolle mit lam=0,04 W/mK bei 50°C Mitteltemperatur)</text>
<text x="2371" y="5008">Verrohrung</text><text x="2414" y="5008">70 / 50</text>
<text x="2453" y="4995">Sichtbar</text><text x="2453" y="5003" font-size="5">Schächte, Zwischendecke</text><text x="2453" y="5009" font-size="5">u. Zentralen</text><text x="2453" y="5022">Unterputz</text>
<text x="2509" y="4995">Alu-Verbundrohr</text><text x="2509" y="5008">Alu-Verbundrohr</text><text x="2509" y="5022">Alu-Verbundrohr</text>
<text x="2568" y="4995">Mineralwolle</text><text x="2568" y="5008">Mineralwolle</text><text x="2568" y="5022">Isolierschlauch</text>
<text x="2655" y="4995">mm</text><text x="2655" y="5008">mm</text><text x="2655" y="5022">mm</text>
<text x="2692" y="4995">30</text><text x="2735" y="4995">40</text><text x="2774" y="4995">50</text><text x="2832" y="4995">-</text>
<text x="2692" y="5008">30</text><text x="2735" y="5008">40</text><text x="2774" y="5008">50</text><text x="2832" y="5008">-</text>
<text x="2671" y="5022">4</text><text x="2772" y="5022">-</text>
<text x="2605" y="5033">Kältemittel</text><text x="2605" y="5038" font-size="3.5">(Werte gelten für Armaflex mit lam=0,033 W/mK bei 0°C Mitteltemperatur)</text>
<text x="2371" y="5058">Verrohrung</text><text x="2414" y="5058">- / -</text>
<text x="2453" y="5047">Sichtbar</text><text x="2453" y="5055" font-size="5">Schächte, Zwischendecke</text><text x="2453" y="5062" font-size="5">u. Zentralen</text>
<text x="2509" y="5047">Cu- Rohr</text><text x="2509" y="5060">Cu- Rohr</text><text x="2568" y="5047">Elastomer</text><text x="2568" y="5060">Elastomer</text>
<text x="2655" y="5047">mm</text><text x="2655" y="5060">mm</text><text x="2671" y="5047">9</text><text x="2686" y="5047">13</text><text x="2714" y="5047">19</text><text x="2800" y="5047">-</text><text x="2671" y="5060">9</text><text x="2686" y="5060">13</text><text x="2714" y="5060">19</text><text x="2800" y="5060">-</text>
<text x="2605" y="5075">Trinkwasser</text><text x="2605" y="5080" font-size="3.5">(Werte gelten für Armaflex mit lam=0,033 W/mK bei 0°C Mitteltemperatur, bzw. Mineralwolle mit lam=0,037W/mK bei 50°C Mitteltemperatur)</text>
<text x="2371" y="5104">TKW</text><text x="2414" y="5104">10</text><text x="2371" y="5142">TWW, Zirk.</text><text x="2414" y="5142">10</text>
<text x="2453" y="5090">alle Bereiche</text><text x="2453" y="5100" font-size="5">Innliegende</text><text x="2453" y="5106" font-size="5">Tassen in Gängen</text><text x="2453" y="5118">Unterputz</text>
<text x="2453" y="5128">alle Bereiche</text><text x="2453" y="5139" font-size="5">Innliegende</text><text x="2453" y="5145" font-size="5">Tassen in Gängen</text><text x="2453" y="5157">Unterputz</text>
<text x="2509" y="5090">Alu-Verbundrohr</text><text x="2509" y="5104">Alu-Verbundrohr</text><text x="2509" y="5118">Alu-Verbundrohr</text><text x="2509" y="5128">Alu-Verbundrohr</text><text x="2509" y="5142">Alu-Verbundrohr</text><text x="2509" y="5157">Alu-Verbundrohr</text>
<text x="2568" y="5090">Elastomer</text><text x="2568" y="5104">Elastomer</text><text x="2568" y="5118">Isolierschlauch</text><text x="2568" y="5128">Mineralwolle</text><text x="2568" y="5142">Mineralwolle</text><text x="2568" y="5157">Isolierschlauch</text>
<text x="2655" y="5099">mm</text><text x="2655" y="5118">mm</text><text x="2655" y="5138">mm</text><text x="2655" y="5157">mm</text>
<text x="2707" y="5099">19</text><text x="2765" y="5099">25</text><text x="2823" y="5099">-</text><text x="2671" y="5118">4</text><text x="2772" y="5118">-</text>
<text x="2692" y="5138">30</text><text x="2735" y="5138">40</text><text x="2774" y="5138">50</text><text x="2832" y="5138">-</text><text x="2671" y="5157">4</text><text x="2772" y="5157">-</text>
<text x="2605" y="5166">Regenwasser</text><text x="2605" y="5171" font-size="3.5">(Werte gelten für Kautschuk mit lam=0,042W/mK)</text>
<text x="2371" y="5181">Verrohrung</text><text x="2453" y="5181">alle Breiche</text><text x="2509" y="5181">Material</text><text x="2568" y="5181">Elastomer</text><text x="2655" y="5181">mm</text><text x="2765" y="5181">13</text>
<text x="2605" y="5190">bei Leitungsverzügen in allgemeinen Bereichen + Isol</text>
<text x="2605" y="5199">Abwasser</text><text x="2605" y="5204" font-size="3.5">(Werte gelten für Kautschuk mit lam=0,042W/mK)</text>
<text x="2371" y="5214">Verrohrung</text><text x="2453" y="5214">Verzüge EG</text><text x="2509" y="5214">Material</text><text x="2568" y="5214">Geberit Isol</text><text x="2655" y="5214">mm</text><text x="2765" y="5214">17</text>
<text x="2605" y="5223">bei Leitungsverzügen in allgemeinen Bereichen + Isol</text>
<text x="2605" y="5243">Lüftung</text><text x="2605" y="5248" font-size="3.5">(Werte gelten für Armaflex mit lam=0,033 W/mK bei 0°C Mitteltemperatur, bzw. Mineralwolle mit lam=0,037W/mK bei 50°C Mitteltemperatur)</text>
<text x="2371" y="5271">AUL</text><text x="2414" y="5271" font-weight="bold">-20 - +32</text>
<text x="2371" y="5312">ZUL</text><text x="2414" y="5322">16 - 32</text><text x="2371" y="5351">ABL</text>
<text x="2371" y="5392">FOL</text><text x="2414" y="5392" font-weight="bold">-20 - +32</text>
<text x="2453" y="5262">Zentrale</text><text x="2453" y="5279">im Freien</text><text x="2453" y="5313">unbeheizt</text><text x="2453" y="5329">im Freien</text><text x="2453" y="5343">Innen</text><text x="2453" y="5356">im Freien</text><text x="2453" y="5369">Zwischendecke</text><text x="2453" y="5383">Zentrale</text><text x="2453" y="5400">im Freien</text>
<text x="2509" y="5271">verz. Stahlblech</text><text x="2509" y="5296">verz. Stahlblech</text><text x="2509" y="5313">verz. Stahlblech</text><text x="2509" y="5329">verz. Stahlblech</text><text x="2509" y="5343">verz. Stahlblech</text><text x="2509" y="5356">verz. Stahlblech</text><text x="2509" y="5369">verz. Stahlblech</text><text x="2509" y="5392">verz. Stahlblech</text>
<text x="2568" y="5271">Elastomer</text><text x="2568" y="5293">Mineralwolle</text><text x="2568" y="5299">alukaschiert</text><text x="2568" y="5310">Mineralwolle</text><text x="2568" y="5316">alukaschiert</text><text x="2568" y="5326">Mineralwolle</text><text x="2568" y="5332">alukaschiert</text><text x="2568" y="5343">nicht isoliert</text><text x="2568" y="5353">Mineralwolle</text><text x="2568" y="5359">alukaschiert</text><text x="2568" y="5369">nicht isoliert</text><text x="2568" y="5392">Elastomer</text>
<text x="2620" y="5277">Alublech</text><text x="2620" y="5283" font-size="5.5">(wetterfest)</text><text x="2620" y="5310">Alublech</text><text x="2620" y="5316">bis h=2,1m</text><text x="2620" y="5353">Alublech</text><text x="2620" y="5359" font-size="5.5">(wetterfest)</text><text x="2620" y="5398">Alublech</text><text x="2620" y="5404" font-size="5.5">(wetterfest)</text>
<text x="2655" y="5262">mm</text><text x="2655" y="5279">mm</text><text x="2655" y="5296">mm</text><text x="2655" y="5313">mm</text><text x="2655" y="5329">mm</text><text x="2655" y="5356">mm</text><text x="2655" y="5383">mm</text><text x="2655" y="5400">mm</text>
<text x="2765" y="5262">25</text><text x="2765" y="5279">25 + 20mm Mineralwolle alukaschiert</text><text x="2765" y="5296">20</text><text x="2765" y="5313">20</text><text x="2765" y="5329">40</text><text x="2765" y="5343">-</text><text x="2765" y="5356">40</text><text x="2765" y="5369">-</text><text x="2765" y="5383">25</text><text x="2765" y="5400">25 + 20mm Mineralwolle alukaschiert</text>
</g>

<!-- ========== TITLE BLOCK ========== -->
<line x1="2343" y1="4885" x2="2343" y2="6254" stroke="#111" stroke-width="2"/>
<rect x="2344" y="5412" width="524" height="836" fill="none" stroke="#111" stroke-width="2"/>
<g stroke="#111" stroke-width="0.8">
<line x1="2344" y1="5427" x2="2868" y2="5427"/><line x1="2344" y1="5441.5" x2="2868" y2="5441.5"/><line x1="2344" y1="5456" x2="2868" y2="5456"/><line x1="2344" y1="5471" x2="2868" y2="5471"/><line x1="2344" y1="5485" x2="2868" y2="5485"/><line x1="2344" y1="5499" x2="2868" y2="5499"/><line x1="2344" y1="5513" x2="2868" y2="5513" stroke-width="1.5"/>
<line x1="2377.5" y1="5412" x2="2377.5" y2="5513"/><line x1="2686" y1="5412" x2="2686" y2="5513"/><line x1="2732" y1="5412" x2="2732" y2="5513"/><line x1="2777.5" y1="5412" x2="2777.5" y2="5513"/><line x1="2823" y1="5412" x2="2823" y2="5513"/>
<line x1="2344" y1="5530" x2="2868" y2="5530"/><line x1="2344" y1="5547" x2="2868" y2="5547"/><line x1="2344" y1="5564" x2="2868" y2="5564"/><line x1="2344" y1="5581" x2="2868" y2="5581"/><line x1="2344" y1="5598" x2="2868" y2="5598"/><line x1="2344" y1="5614" x2="2868" y2="5614" stroke-width="1.5"/>
<line x1="2475" y1="5530" x2="2475" y2="5614"/><line x1="2606" y1="5513" x2="2606" y2="5614" stroke-width="1.4"/><line x1="2737" y1="5513" x2="2737" y2="5614" stroke-width="1.4"/>
<line x1="2475" y1="5614" x2="2475" y2="5666"/><line x1="2525" y1="5614" x2="2525" y2="5894" stroke-width="1.4"/>
<line x1="2344" y1="5666" x2="2525" y2="5666" stroke-width="1.4"/><line x1="2344" y1="5679" x2="2525" y2="5679" stroke-width="1.4"/>
<line x1="2344" y1="5733" x2="2525" y2="5733"/><line x1="2344" y1="5788" x2="2525" y2="5788"/><line x1="2344" y1="5841" x2="2525" y2="5841"/>
<line x1="2525" y1="5881" x2="2868" y2="5881"/>
<line x1="2344" y1="5894" x2="2868" y2="5894" stroke-width="2.2"/>
<line x1="2344" y1="5992" x2="2868" y2="5992"/><line x1="2344" y1="6029" x2="2868" y2="6029"/>
<line x1="2344" y1="6121" x2="2868" y2="6121" stroke-width="1.4"/>
<line x1="2434" y1="6121" x2="2434" y2="6190"/><line x1="2519" y1="6121" x2="2519" y2="6190"/><line x1="2610" y1="6121" x2="2610" y2="6190"/><line x1="2787" y1="6121" x2="2787" y2="6241"/>
<line x1="2787" y1="6178" x2="2868" y2="6178"/>
<line x1="2344" y1="6190" x2="2868" y2="6190" stroke-width="1.4"/><line x1="2344" y1="6207" x2="2868" y2="6207"/><line x1="2707" y1="6224" x2="2868" y2="6224"/><line x1="2344" y1="6241" x2="2868" y2="6241" stroke-width="1.4"/>
<line x1="2416" y1="6190" x2="2416" y2="6241"/><line x1="2488" y1="6190" x2="2488" y2="6241"/><line x1="2561" y1="6190" x2="2561" y2="6241"/><line x1="2634" y1="6190" x2="2634" y2="6241"/><line x1="2707" y1="6190" x2="2707" y2="6241"/>
</g>
<g font-size="5.5" font-weight="bold" fill="#111">
<text x="2352" y="5509">Index:</text><text x="2383" y="5509">Änderung:</text><text x="2701" y="5509">Gez.:</text><text x="2745" y="5509">Datum:</text><text x="2791" y="5509">Gepr.:</text><text x="2835" y="5509">Datum:</text>
<text x="2354" y="5524">Koordiniert mit den Firmen/Gewerke</text><text x="2625" y="5524">Datum:</text><text x="2749" y="5524">Unterschrift:</text>
<text x="2354" y="5675">PLANFREIGABE:</text><text x="2354" y="5690">AG:</text><text x="2352" y="5744">ÖBA-HT:</text><text x="2352" y="5798">Architekt:</text><text x="2352" y="5851">Elektro:</text>
<text x="2526" y="5890">Architektenstand: WAG_FAR_AP_HB_GR_W18-W16A_OG1_P003_14</text><text x="2718" y="5890">Elektrostand: -</text>
</g>
<g font-size="5.5" fill="#222">
<text x="2366" y="5702">CORAG General Contractor MAX GmbH</text><text x="2366" y="5710">1010 Wien, Wipplingerstraße 23</text>
<text x="2366" y="5756">Diplom-Ingenieur Reinhold A. Bacher, MSc.</text><text x="2366" y="5764">A-1050 Wien, Emil-Kralik-Gasse 3</text>
<text x="2366" y="5810">Archisphere - Gabriel Kacerovsky ZT GmbH</text><text x="2366" y="5818">1070 Wien, Siebensterngasse 31/3</text>
</g>
<text x="2354" y="5649" font-size="22" fill="#000">PARIE:</text>
<text x="2494" y="5648" font-size="18" font-weight="bold" fill="#000">-</text>
<g fill="none" stroke="#222" stroke-width="0.9">
<rect x="2533" y="5655" width="327" height="184" stroke-width="1.3"/>
<rect x="2569" y="5665" width="214" height="54" stroke-width="1.4"/>
<line x1="2569" y1="5671" x2="2783" y2="5671"/><line x1="2569" y1="5713" x2="2783" y2="5713"/>
<line x1="2541" y1="5690" x2="2580" y2="5839"/><line x1="2554" y1="5665" x2="2605" y2="5839"/>
<line x1="2579" y1="5719" x2="2620" y2="5839" stroke="#888"/>
<line x1="2595" y1="5727" x2="2626" y2="5764"/><line x1="2620" y1="5716" x2="2650" y2="5759"/>
<rect x="2645" y="5717" width="15" height="40"/>
<line x1="2630" y1="5780" x2="2860" y2="5770" stroke="#999"/><line x1="2660" y1="5760" x2="2860" y2="5755" stroke="#999"/>
<rect x="2760" y="5740" width="25" height="14" stroke="#999"/><rect x="2800" y="5740" width="18" height="14" stroke="#999"/>
<line x1="2800" y1="5665" x2="2800" y2="5839" stroke="#bbb"/><line x1="2830" y1="5665" x2="2830" y2="5839" stroke="#bbb"/>
<rect x="2720" y="5760" width="122" height="56" stroke="#e03030" stroke-width="1"/>
<line x1="2782" y1="5760" x2="2782" y2="5816" stroke="#e03030" stroke-width="0.8"/>
<g fill="#222" stroke="none"><rect x="2576" y="5668" width="4" height="4"/><rect x="2588" y="5668" width="4" height="4"/><rect x="2603" y="5668" width="4" height="4"/><rect x="2619" y="5668" width="4" height="4"/><rect x="2700" y="5668" width="4" height="4"/><rect x="2726" y="5668" width="4" height="4"/><rect x="2576" y="5713" width="4" height="4"/><rect x="2600" y="5713" width="4" height="4"/><rect x="2690" y="5713" width="4" height="4"/><rect x="2715" y="5713" width="4" height="4"/><rect x="2750" y="5713" width="4" height="4"/></g>
<rect x="2641" y="5664" width="50" height="8"/><rect x="2663" y="5711" width="38" height="8"/>
<path d="M2540 5832 L2557 5815 M2545 5830 L2560 5818"/>
</g>
<g font-size="3.5" fill="#e03030"><text x="2730" y="5779">WAG 16a</text><text x="2730" y="5784">HOFGEBÄUDE</text><text x="2796" y="5779">WAG 18</text><text x="2796" y="5784">HOFGEBÄUDE</text></g>
<text x="2419" y="5947" font-size="54" font-weight="bold" fill="#0b3c78" textLength="383" lengthAdjust="spacing">Montageplan</text>
<text x="2499" y="5982" font-size="28" font-weight="bold" fill="#0b3c78" textLength="250" lengthAdjust="spacing">Bestandszimmer</text>
<text x="2375" y="6010" font-size="17" font-weight="bold" fill="#0b3c78" textLength="461" lengthAdjust="spacing">HOTEL WAGRAMER STRASSE 16A U. 18 Hoftrakt</text>
<text x="2557" y="6025" font-size="17" font-weight="bold" fill="#0b3c78" textLength="99" lengthAdjust="spacing">1220 Wien</text>
<text x="2363" y="6093" font-size="57" font-weight="bold" fill="#17498a" textLength="241" lengthAdjust="spacingAndGlyphs" letter-spacing="-2">Caverion</text>
<text x="2627" y="6064" font-size="13.5" font-weight="bold" fill="#17498a" textLength="229" lengthAdjust="spacing">Caverion Österreich GmbH</text>
<g font-size="6.5" font-weight="bold" fill="#17498a" text-anchor="middle">
<text x="2741" y="6071">Laxenburgerstrasse 254</text><text x="2741" y="6079">A - 1230 Wien</text><text x="2741" y="6087">Tel. 05 06 06 - 0</text><text x="2741" y="6095">http://www.Caverion.at</text>
</g>
<g font-size="6.5" font-weight="bold" fill="#111">
<text x="2349" y="6133">Die gesamte Planung</text><text x="2349" y="6145">ist zu unseren Gunsten</text><text x="2349" y="6157">rechtlich geschützt; bei</text><text x="2349" y="6169">sonstiger gerichtlicher/</text><text x="2349" y="6181">behördlicher Verfolgung</text>
<text x="2791" y="6187" font-size="5.5">Projekt Nr.: 530602040.A.MI</text>
<text x="2377" y="6201" text-anchor="middle" font-size="6">GEWERK</text><text x="2452" y="6201" text-anchor="middle" font-size="6">BAUTEIL</text><text x="2524" y="6201" text-anchor="middle" font-size="6">GESCHOSS</text><text x="2597" y="6201" text-anchor="middle" font-size="6">LAUFENDENUMMER</text><text x="2670" y="6201" text-anchor="middle" font-size="6">INDEX</text><text x="2741" y="6201" text-anchor="middle" font-size="6">PLANVERFASSER</text>
<text x="2791" y="6201" font-size="5.5">Maßstab:</text><text x="2826" y="6201" font-size="5.5">1:50</text>
<text x="2709" y="6218" font-size="5.5">Gez.:</text><text x="2748" y="6218" font-size="5.5">MIT</text><text x="2709" y="6235" font-size="5.5">Gepr.:</text><text x="2748" y="6235" font-size="5.5">MIT</text>
<text x="2791" y="6218" font-size="5.5">Datum:</text><text x="2824" y="6218" font-size="5.5">22.02.2023</text><text x="2791" y="6235" font-size="5.5">Datum:</text><text x="2824" y="6235" font-size="5.5">22.02.2023</text>
<text x="2349" y="6251" font-size="5.5">Datei (dwg): HKLS_1.OG_CAVERION.DWG</text><text x="2592" y="6251" font-size="5.5">Farbe (pcp):</text>
</g>
<g fill="#111">
<text x="2525" y="6136" font-size="9">PLANINHALT:</text>
<text x="2618" y="6142" font-size="11">HKLS</text><text x="2618" y="6159" font-size="11">Grundriss</text><text x="2618" y="6176" font-size="11">OG1-DDS</text>
<text x="2792" y="6136" font-size="8.5">Format:</text><text x="2794" y="6153" font-size="9">-</text>
<g font-size="9" text-anchor="middle"><text x="2376" y="6228">HKLS</text><text x="2457" y="6228">WAG16</text><text x="2523" y="6228">1.OG</text><text x="2594" y="6228">001</text><text x="2662" y="6228">-</text></g>
<text x="2707" y="5497" font-size="6" text-anchor="middle">-</text><text x="2754" y="5497" font-size="6" text-anchor="middle">-</text><text x="2800" y="5497" font-size="6" text-anchor="middle">-</text><text x="2845" y="5497" font-size="6" text-anchor="middle">-</text><text x="2384" y="5497" font-size="6">-</text>
</g>
</svg>
</body></html>
